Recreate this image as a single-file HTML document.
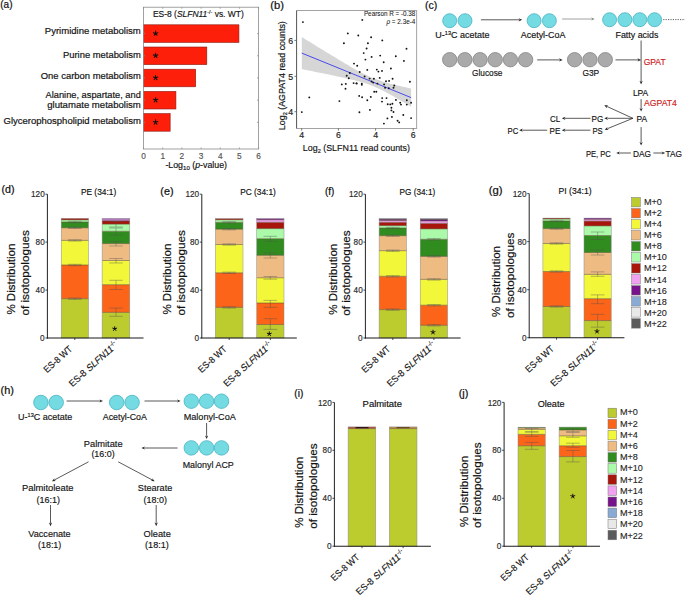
<!DOCTYPE html>
<html><head><meta charset="utf-8"><style>
html,body{margin:0;padding:0;background:#fff;width:685px;height:596px;overflow:hidden}
svg{display:block;font-family:"Liberation Sans",sans-serif}
</style></head><body>
<svg width="685" height="596" viewBox="0 0 685 596">
<text x="0.2" y="7.7" font-size="10" textLength="12.3" lengthAdjust="spacingAndGlyphs" fill="#141414" stroke="#111" stroke-width="0.22">(a)</text>
<rect x="143.50" y="24.80" width="95.44" height="17.60" fill="#fe1f0b" stroke="#8a1c14" stroke-width="0.6"/>
<path d="M155.60,33.40L155.60,31.10M155.60,33.40L157.79,32.69M155.60,33.40L156.95,35.26M155.60,33.40L154.25,35.26M155.60,33.40L153.41,32.69" stroke="#111" stroke-width="1.1" stroke-linecap="round" fill="none"/>
<rect x="143.50" y="47.00" width="63.31" height="17.60" fill="#fe1f0b" stroke="#8a1c14" stroke-width="0.6"/>
<path d="M155.60,55.60L155.60,53.30M155.60,55.60L157.79,54.89M155.60,55.60L156.95,57.46M155.60,55.60L154.25,57.46M155.60,55.60L153.41,54.89" stroke="#111" stroke-width="1.1" stroke-linecap="round" fill="none"/>
<rect x="143.50" y="69.20" width="52.18" height="17.60" fill="#fe1f0b" stroke="#8a1c14" stroke-width="0.6"/>
<path d="M155.60,77.80L155.60,75.50M155.60,77.80L157.79,77.09M155.60,77.80L156.95,79.66M155.60,77.80L154.25,79.66M155.60,77.80L153.41,77.09" stroke="#111" stroke-width="1.1" stroke-linecap="round" fill="none"/>
<rect x="143.50" y="91.40" width="32.42" height="17.60" fill="#fe1f0b" stroke="#8a1c14" stroke-width="0.6"/>
<path d="M155.60,100.00L155.60,97.70M155.60,100.00L157.79,99.29M155.60,100.00L156.95,101.86M155.60,100.00L154.25,101.86M155.60,100.00L153.41,99.29" stroke="#111" stroke-width="1.1" stroke-linecap="round" fill="none"/>
<rect x="143.50" y="113.60" width="26.66" height="17.60" fill="#fe1f0b" stroke="#8a1c14" stroke-width="0.6"/>
<path d="M155.60,122.20L155.60,119.90M155.60,122.20L157.79,121.49M155.60,122.20L156.95,124.06M155.60,122.20L154.25,124.06M155.60,122.20L153.41,121.49" stroke="#111" stroke-width="1.1" stroke-linecap="round" fill="none"/>
<rect x="143.5" y="7.2" width="115.1" height="141.8" fill="none" stroke="#8a8a8a" stroke-width="0.8"/>
<line x1="143.5" y1="149.0" x2="143.5" y2="147.4" stroke="#8a8a8a" stroke-width="0.7"/>
<line x1="143.5" y1="7.2" x2="143.5" y2="8.8" stroke="#8a8a8a" stroke-width="0.7"/>
<text x="143.5" y="159.0" font-size="8.3" text-anchor="middle" fill="#555" stroke="#555" stroke-width="0.17">0</text>
<line x1="162.7" y1="149.0" x2="162.7" y2="147.4" stroke="#8a8a8a" stroke-width="0.7"/>
<line x1="162.7" y1="7.2" x2="162.7" y2="8.8" stroke="#8a8a8a" stroke-width="0.7"/>
<text x="162.7" y="159.0" font-size="8.3" text-anchor="middle" fill="#555" stroke="#555" stroke-width="0.17">1</text>
<line x1="181.9" y1="149.0" x2="181.9" y2="147.4" stroke="#8a8a8a" stroke-width="0.7"/>
<line x1="181.9" y1="7.2" x2="181.9" y2="8.8" stroke="#8a8a8a" stroke-width="0.7"/>
<text x="181.9" y="159.0" font-size="8.3" text-anchor="middle" fill="#555" stroke="#555" stroke-width="0.17">2</text>
<line x1="201.1" y1="149.0" x2="201.1" y2="147.4" stroke="#8a8a8a" stroke-width="0.7"/>
<line x1="201.1" y1="7.2" x2="201.1" y2="8.8" stroke="#8a8a8a" stroke-width="0.7"/>
<text x="201.1" y="159.0" font-size="8.3" text-anchor="middle" fill="#555" stroke="#555" stroke-width="0.17">3</text>
<line x1="220.2" y1="149.0" x2="220.2" y2="147.4" stroke="#8a8a8a" stroke-width="0.7"/>
<line x1="220.2" y1="7.2" x2="220.2" y2="8.8" stroke="#8a8a8a" stroke-width="0.7"/>
<text x="220.2" y="159.0" font-size="8.3" text-anchor="middle" fill="#555" stroke="#555" stroke-width="0.17">4</text>
<line x1="239.4" y1="149.0" x2="239.4" y2="147.4" stroke="#8a8a8a" stroke-width="0.7"/>
<line x1="239.4" y1="7.2" x2="239.4" y2="8.8" stroke="#8a8a8a" stroke-width="0.7"/>
<text x="239.4" y="159.0" font-size="8.3" text-anchor="middle" fill="#555" stroke="#555" stroke-width="0.17">5</text>
<line x1="258.6" y1="149.0" x2="258.6" y2="147.4" stroke="#8a8a8a" stroke-width="0.7"/>
<line x1="258.6" y1="7.2" x2="258.6" y2="8.8" stroke="#8a8a8a" stroke-width="0.7"/>
<text x="258.6" y="159.0" font-size="8.3" text-anchor="middle" fill="#555" stroke="#555" stroke-width="0.17">6</text>
<line x1="143.5" y1="33.6" x2="145.1" y2="33.6" stroke="#8a8a8a" stroke-width="0.7"/>
<line x1="258.6" y1="33.6" x2="257.0" y2="33.6" stroke="#8a8a8a" stroke-width="0.7"/>
<line x1="143.5" y1="55.8" x2="145.1" y2="55.8" stroke="#8a8a8a" stroke-width="0.7"/>
<line x1="258.6" y1="55.8" x2="257.0" y2="55.8" stroke="#8a8a8a" stroke-width="0.7"/>
<line x1="143.5" y1="78.0" x2="145.1" y2="78.0" stroke="#8a8a8a" stroke-width="0.7"/>
<line x1="258.6" y1="78.0" x2="257.0" y2="78.0" stroke="#8a8a8a" stroke-width="0.7"/>
<line x1="143.5" y1="100.2" x2="145.1" y2="100.2" stroke="#8a8a8a" stroke-width="0.7"/>
<line x1="258.6" y1="100.2" x2="257.0" y2="100.2" stroke="#8a8a8a" stroke-width="0.7"/>
<line x1="143.5" y1="122.4" x2="145.1" y2="122.4" stroke="#8a8a8a" stroke-width="0.7"/>
<line x1="258.6" y1="122.4" x2="257.0" y2="122.4" stroke="#8a8a8a" stroke-width="0.7"/>
<text x="44.8" y="34.1" font-size="9.6" textLength="96.0" lengthAdjust="spacingAndGlyphs" fill="#141414" stroke="#141414" stroke-width="0.2">Pyrimidine metabolism</text>
<text x="63.0" y="57.7" font-size="9.6" textLength="77.8" lengthAdjust="spacingAndGlyphs" fill="#141414" stroke="#141414" stroke-width="0.2">Purine metabolism</text>
<text x="40.8" y="79.4" font-size="9.6" textLength="100.0" lengthAdjust="spacingAndGlyphs" fill="#141414" stroke="#141414" stroke-width="0.2">One carbon metabolism</text>
<text x="45.6" y="97.5" font-size="9.6" textLength="95.2" lengthAdjust="spacingAndGlyphs" fill="#141414" stroke="#141414" stroke-width="0.2">Alanine, aspartate, and</text>
<text x="47.2" y="107.5" font-size="9.6" textLength="93.6" lengthAdjust="spacingAndGlyphs" fill="#141414" stroke="#141414" stroke-width="0.2">glutamate metabolism</text>
<text x="3.5" y="124.4" font-size="9.6" textLength="137.3" lengthAdjust="spacingAndGlyphs" fill="#141414" stroke="#141414" stroke-width="0.2">Glycerophospholipid metabolism</text>
<text x="152.9" y="17.3" font-size="8.8" textLength="90.9" lengthAdjust="spacingAndGlyphs" fill="#141414" stroke="#141414" stroke-width="0.17">ES-8 (<tspan font-style="italic">SLFN11</tspan><tspan font-size="5.5" dy="-3">-/-</tspan><tspan dy="3"> vs. WT)</tspan></text>
<text x="165.4" y="167.6" font-size="8.6" textLength="61.6" lengthAdjust="spacingAndGlyphs" fill="#141414" stroke="#141414" stroke-width="0.17">-Log<tspan font-size="6" dy="2">10</tspan><tspan dy="-2"> (</tspan><tspan font-style="italic">p</tspan>-value)</text>
<text x="270.3" y="9.2" font-size="10" textLength="13.7" lengthAdjust="spacingAndGlyphs" fill="#141414" stroke="#111" stroke-width="0.22">(b)</text>
<polygon points="301.8,37.1 304.5,38.7 307.3,40.4 310.0,42.1 312.7,43.8 315.5,45.5 318.2,47.2 320.9,48.8 323.7,50.5 326.4,52.2 329.1,53.8 331.9,55.5 334.6,57.1 337.3,58.8 340.1,60.4 342.8,62.1 345.5,63.7 348.3,65.3 351.0,66.9 353.7,68.4 356.4,69.9 359.2,71.4 361.9,72.9 364.6,74.3 367.4,75.6 370.1,76.9 372.8,78.0 375.6,79.1 378.3,80.1 381.0,81.1 383.8,81.9 386.5,82.7 389.2,83.4 392.0,84.1 394.7,84.8 397.4,85.5 400.2,86.1 402.9,86.7 405.6,87.3 408.4,87.9 411.1,88.5 411.1,106.8 408.4,105.1 405.6,103.5 402.9,101.9 400.2,100.3 397.4,98.7 394.7,97.1 392.0,95.5 389.2,94.0 386.5,92.5 383.8,91.1 381.0,89.7 378.3,88.4 375.6,87.2 372.8,86.1 370.1,85.0 367.4,84.0 364.6,83.1 361.9,82.3 359.2,81.5 356.4,80.8 353.7,80.1 351.0,79.4 348.3,78.8 345.5,78.2 342.8,77.5 340.1,76.9 337.3,76.4 334.6,75.8 331.9,75.2 329.1,74.6 326.4,74.1 323.7,73.5 320.9,73.0 318.2,72.4 315.5,71.9 312.7,71.3 310.0,70.8 307.3,70.2 304.5,69.7 301.8,69.1" fill="#d6d6d6"/>
<line x1="301.8" y1="53.1" x2="411.1" y2="97.6" stroke="#3a3af0" stroke-width="0.9"/>
<circle cx="302.9" cy="22.1" r="0.95" fill="#111"/>
<circle cx="347.8" cy="33.4" r="0.95" fill="#111"/>
<circle cx="343.9" cy="43.2" r="0.95" fill="#111"/>
<circle cx="354" cy="63.6" r="0.95" fill="#111"/>
<circle cx="362.3" cy="19.9" r="0.95" fill="#111"/>
<circle cx="358.3" cy="35.5" r="0.95" fill="#111"/>
<circle cx="371.1" cy="37.2" r="0.95" fill="#111"/>
<circle cx="382.3" cy="40.4" r="0.95" fill="#111"/>
<circle cx="367.9" cy="43.2" r="0.95" fill="#111"/>
<circle cx="366.6" cy="48.5" r="0.95" fill="#111"/>
<circle cx="406.5" cy="48.8" r="0.95" fill="#111"/>
<circle cx="363.7" cy="53.1" r="0.95" fill="#111"/>
<circle cx="371.6" cy="56.9" r="0.95" fill="#111"/>
<circle cx="380.2" cy="55.6" r="0.95" fill="#111"/>
<circle cx="395.8" cy="56.2" r="0.95" fill="#111"/>
<circle cx="365.4" cy="59.6" r="0.95" fill="#111"/>
<circle cx="403.9" cy="60.9" r="0.95" fill="#111"/>
<circle cx="383.7" cy="62.3" r="0.95" fill="#111"/>
<circle cx="357.2" cy="65.8" r="0.95" fill="#111"/>
<circle cx="301.8" cy="112.1" r="0.95" fill="#111"/>
<circle cx="309.3" cy="97.4" r="0.95" fill="#111"/>
<circle cx="339.4" cy="101.1" r="0.95" fill="#111"/>
<circle cx="341.8" cy="84.4" r="0.95" fill="#111"/>
<circle cx="345.8" cy="83.9" r="0.95" fill="#111"/>
<circle cx="345.5" cy="88.8" r="0.95" fill="#111"/>
<circle cx="353.6" cy="83.1" r="0.95" fill="#111"/>
<circle cx="356.6" cy="83.4" r="0.95" fill="#111"/>
<circle cx="346.7" cy="75.8" r="0.95" fill="#111"/>
<circle cx="348.8" cy="78.2" r="0.95" fill="#111"/>
<circle cx="349.8" cy="73" r="0.95" fill="#111"/>
<circle cx="367.3" cy="69.9" r="0.95" fill="#111"/>
<circle cx="376.8" cy="69.6" r="0.95" fill="#111"/>
<circle cx="378.4" cy="71.6" r="0.95" fill="#111"/>
<circle cx="382" cy="70.9" r="0.95" fill="#111"/>
<circle cx="390.9" cy="68.5" r="0.95" fill="#111"/>
<circle cx="359.7" cy="72" r="0.95" fill="#111"/>
<circle cx="379.7" cy="77.9" r="0.95" fill="#111"/>
<circle cx="364.6" cy="76.5" r="0.95" fill="#111"/>
<circle cx="369.6" cy="78.6" r="0.95" fill="#111"/>
<circle cx="373.9" cy="78.7" r="0.95" fill="#111"/>
<circle cx="386" cy="81.3" r="0.95" fill="#111"/>
<circle cx="389.1" cy="80.9" r="0.95" fill="#111"/>
<circle cx="392.6" cy="78.8" r="0.95" fill="#111"/>
<circle cx="409.9" cy="81.8" r="0.95" fill="#111"/>
<circle cx="356.5" cy="83.4" r="0.95" fill="#111"/>
<circle cx="361.8" cy="83.6" r="0.95" fill="#111"/>
<circle cx="361.8" cy="84.8" r="0.95" fill="#111"/>
<circle cx="371.6" cy="81.5" r="0.95" fill="#111"/>
<circle cx="373.2" cy="82.6" r="0.95" fill="#111"/>
<circle cx="377.4" cy="83.6" r="0.95" fill="#111"/>
<circle cx="384.1" cy="84.4" r="0.95" fill="#111"/>
<circle cx="385.1" cy="87.8" r="0.95" fill="#111"/>
<circle cx="388.8" cy="88.3" r="0.95" fill="#111"/>
<circle cx="394.3" cy="85.5" r="0.95" fill="#111"/>
<circle cx="393.5" cy="87.8" r="0.95" fill="#111"/>
<circle cx="374.2" cy="91.7" r="0.95" fill="#111"/>
<circle cx="376.3" cy="91.7" r="0.95" fill="#111"/>
<circle cx="359.2" cy="95.9" r="0.95" fill="#111"/>
<circle cx="362.1" cy="97.3" r="0.95" fill="#111"/>
<circle cx="370.8" cy="96.9" r="0.95" fill="#111"/>
<circle cx="367.3" cy="100.2" r="0.95" fill="#111"/>
<circle cx="382.2" cy="98.1" r="0.95" fill="#111"/>
<circle cx="386.5" cy="98.1" r="0.95" fill="#111"/>
<circle cx="382" cy="101.6" r="0.95" fill="#111"/>
<circle cx="395.9" cy="99.9" r="0.95" fill="#111"/>
<circle cx="406.8" cy="100.2" r="0.95" fill="#111"/>
<circle cx="411.1" cy="102.8" r="0.95" fill="#111"/>
<circle cx="387.7" cy="104.2" r="0.95" fill="#111"/>
<circle cx="390.3" cy="104.4" r="0.95" fill="#111"/>
<circle cx="392.4" cy="103.7" r="0.95" fill="#111"/>
<circle cx="400.2" cy="102.8" r="0.95" fill="#111"/>
<circle cx="401" cy="104.6" r="0.95" fill="#111"/>
<circle cx="406.8" cy="104.6" r="0.95" fill="#111"/>
<circle cx="391.4" cy="107.8" r="0.95" fill="#111"/>
<circle cx="391.4" cy="110.4" r="0.95" fill="#111"/>
<circle cx="393.5" cy="112" r="0.95" fill="#111"/>
<circle cx="359.4" cy="112.2" r="0.95" fill="#111"/>
<circle cx="369.9" cy="109.9" r="0.95" fill="#111"/>
<circle cx="403.3" cy="115" r="0.95" fill="#111"/>
<circle cx="391.9" cy="116.9" r="0.95" fill="#111"/>
<circle cx="387.4" cy="118.4" r="0.95" fill="#111"/>
<circle cx="411.1" cy="118.1" r="0.95" fill="#111"/>
<circle cx="397.6" cy="120.8" r="0.95" fill="#111"/>
<circle cx="399.2" cy="122.4" r="0.95" fill="#111"/>
<circle cx="383.9" cy="123.6" r="0.95" fill="#111"/>
<rect x="296.6" y="10.6" width="120.1" height="117.8" fill="none" stroke="#8c8c8c" stroke-width="0.8"/>
<line x1="296.6" y1="10.6" x2="296.6" y2="128.4" stroke="#555" stroke-width="0.9"/>
<line x1="294.4" y1="40.4" x2="296.6" y2="40.4" stroke="#555" stroke-width="0.8"/>
<text x="290.8" y="43.6" font-size="8.8" text-anchor="middle" fill="#222" stroke="#222" stroke-width="0.17">6</text>
<line x1="294.4" y1="76.3" x2="296.6" y2="76.3" stroke="#555" stroke-width="0.8"/>
<text x="290.8" y="79.5" font-size="8.8" text-anchor="middle" fill="#222" stroke="#222" stroke-width="0.17">5</text>
<line x1="294.4" y1="111.7" x2="296.6" y2="111.7" stroke="#555" stroke-width="0.8"/>
<text x="290.8" y="114.9" font-size="8.8" text-anchor="middle" fill="#222" stroke="#222" stroke-width="0.17">4</text>
<line x1="301.7" y1="128.4" x2="301.7" y2="130.6" stroke="#555" stroke-width="0.8"/>
<text x="301.7" y="138.3" font-size="8.8" text-anchor="middle" fill="#222" stroke="#222" stroke-width="0.17">4</text>
<line x1="338.4" y1="128.4" x2="338.4" y2="130.6" stroke="#555" stroke-width="0.8"/>
<text x="338.4" y="138.3" font-size="8.8" text-anchor="middle" fill="#222" stroke="#222" stroke-width="0.17">6</text>
<line x1="375.6" y1="128.4" x2="375.6" y2="130.6" stroke="#555" stroke-width="0.8"/>
<text x="375.6" y="138.3" font-size="8.8" text-anchor="middle" fill="#222" stroke="#222" stroke-width="0.17">4</text>
<line x1="413.2" y1="128.4" x2="413.2" y2="130.6" stroke="#555" stroke-width="0.8"/>
<text x="413.2" y="138.3" font-size="8.8" text-anchor="middle" fill="#222" stroke="#222" stroke-width="0.17">6</text>
<text x="302.8" y="150.8" font-size="9.8" textLength="107.2" lengthAdjust="spacingAndGlyphs" fill="#141414" stroke="#141414" stroke-width="0.17">Log<tspan font-size="6.2" dy="2.2">2</tspan><tspan dy="-2.2"> (SLFN11 read counts)</tspan></text>
<text transform="translate(285.4,130.2) rotate(-90)" x="0" y="0" font-size="9.8" fill="#141414" stroke="#141414" stroke-width="0.2" textLength="109" lengthAdjust="spacingAndGlyphs">Log<tspan font-size="6.2" dy="1.6">2</tspan><tspan dy="-1.6"> (AGPAT4 read counts)</tspan></text>
<text x="415.4" y="15.8" font-size="6.6" text-anchor="end" textLength="51.5" lengthAdjust="spacingAndGlyphs" fill="#222" stroke="#222" stroke-width="0.08">Pearson R = -0.38</text>
<text x="415.4" y="24.4" font-size="6.6" text-anchor="end" textLength="29.0" lengthAdjust="spacingAndGlyphs" fill="#222" stroke="#222" stroke-width="0.08"><tspan font-style="italic">ρ</tspan> = 2.3e-4</text>
<text x="425.1" y="9.3" font-size="10" textLength="12.3" lengthAdjust="spacingAndGlyphs" fill="#141414" stroke="#111" stroke-width="0.22">(c)</text>
<circle cx="449.7" cy="20.7" r="7.0" fill="#74dbe2" stroke="#47b3c2" stroke-width="0.8"/>
<circle cx="465.0" cy="20.7" r="7.0" fill="#74dbe2" stroke="#47b3c2" stroke-width="0.8"/>
<circle cx="534.1" cy="20.7" r="7.0" fill="#74dbe2" stroke="#47b3c2" stroke-width="0.8"/>
<circle cx="549.4" cy="20.7" r="7.0" fill="#74dbe2" stroke="#47b3c2" stroke-width="0.8"/>
<circle cx="609.6" cy="19.7" r="7.0" fill="#74dbe2" stroke="#47b3c2" stroke-width="0.8"/>
<circle cx="624.9" cy="19.7" r="7.0" fill="#74dbe2" stroke="#47b3c2" stroke-width="0.8"/>
<circle cx="639.8" cy="19.7" r="7.0" fill="#74dbe2" stroke="#47b3c2" stroke-width="0.8"/>
<circle cx="654.6" cy="19.7" r="7.0" fill="#74dbe2" stroke="#47b3c2" stroke-width="0.8"/>
<circle cx="449.7" cy="59.7" r="7.2" fill="#aaaaaa" stroke="#858585" stroke-width="0.8"/>
<circle cx="464.9" cy="59.7" r="7.2" fill="#aaaaaa" stroke="#858585" stroke-width="0.8"/>
<circle cx="480.1" cy="59.7" r="7.2" fill="#aaaaaa" stroke="#858585" stroke-width="0.8"/>
<circle cx="495.2" cy="59.7" r="7.2" fill="#aaaaaa" stroke="#858585" stroke-width="0.8"/>
<circle cx="510.4" cy="59.7" r="7.2" fill="#aaaaaa" stroke="#858585" stroke-width="0.8"/>
<circle cx="525.6" cy="59.7" r="7.2" fill="#aaaaaa" stroke="#858585" stroke-width="0.8"/>
<circle cx="574.6" cy="59.7" r="7.2" fill="#aaaaaa" stroke="#858585" stroke-width="0.8"/>
<circle cx="590.0" cy="59.7" r="7.2" fill="#aaaaaa" stroke="#858585" stroke-width="0.8"/>
<circle cx="605.3" cy="59.7" r="7.2" fill="#aaaaaa" stroke="#858585" stroke-width="0.8"/>
<line x1="480.9" y1="19.8" x2="519.1" y2="19.8" stroke="#222" stroke-width="0.75"/>
<polygon points="522.2,19.8 518.6,21.4 519.6,19.8 518.6,18.2" fill="#222"/>
<line x1="562.1" y1="19.0" x2="591.6" y2="19.0" stroke="#808080" stroke-width="0.75"/>
<polygon points="594.7,19.0 591.1,20.6 592.1,19.0 591.1,17.4" fill="#808080"/>
<line x1="663.2" y1="19.6" x2="685.0" y2="19.6" stroke="#333" stroke-width="0.8" stroke-dasharray="1.2,1.2"/>
<line x1="537.2" y1="59.9" x2="559.5" y2="59.9" stroke="#222" stroke-width="0.75"/>
<polygon points="562.6,59.9 559.0,61.5 560.0,59.9 559.0,58.3" fill="#222"/>
<line x1="615.5" y1="59.9" x2="638.0" y2="59.9" stroke="#222" stroke-width="0.75"/>
<polygon points="641.1,59.9 637.5,61.5 638.5,59.9 637.5,58.3" fill="#222"/>
<line x1="641.1" y1="40.5" x2="641.1" y2="81.3" stroke="#222" stroke-width="0.75"/>
<polygon points="641.1,84.4 639.5,80.8 641.1,81.8 642.7,80.8" fill="#222"/>
<text x="435.3" y="38.0" font-size="9.0" textLength="54.2" lengthAdjust="spacingAndGlyphs" fill="#141414" stroke="#141414" stroke-width="0.17">U-<tspan font-size="5.6" dy="-3.2">13</tspan><tspan dy="3.2">C acetate</tspan></text>
<text x="520.8" y="38.0" font-size="9.54" textLength="44.6" lengthAdjust="spacingAndGlyphs" fill="#141414" stroke="#141414" stroke-width="0.17">Acetyl-CoA</text>
<text x="615.5" y="38.0" font-size="9.54" textLength="42.9" lengthAdjust="spacingAndGlyphs" fill="#141414" stroke="#141414" stroke-width="0.17">Fatty acids</text>
<text x="472.0" y="75.8" font-size="9.54" textLength="30.4" lengthAdjust="spacingAndGlyphs" fill="#141414" stroke="#141414" stroke-width="0.17">Glucose</text>
<text x="582.4" y="75.8" font-size="9.54" textLength="16.8" lengthAdjust="spacingAndGlyphs" fill="#141414" stroke="#141414" stroke-width="0.17">G3P</text>
<text x="643.7" y="64.5" font-size="9.54" textLength="21.9" lengthAdjust="spacingAndGlyphs" fill="#cc2222" stroke="#cc2222" stroke-width="0.17">GPAT</text>
<text x="632.9" y="95.6" font-size="9.54" textLength="15.3" lengthAdjust="spacingAndGlyphs" fill="#141414" stroke="#141414" stroke-width="0.17">LPA</text>
<line x1="641.1" y1="99.1" x2="641.1" y2="108.5" stroke="#222" stroke-width="0.75"/>
<polygon points="641.1,111.6 639.5,108.0 641.1,109.0 642.7,108.0" fill="#222"/>
<text x="644.1" y="106.2" font-size="9.54" textLength="32.7" lengthAdjust="spacingAndGlyphs" fill="#cc2222" stroke="#cc2222" stroke-width="0.17">AGPAT4</text>
<text x="636.6" y="121.7" font-size="9.54" textLength="10.6" lengthAdjust="spacingAndGlyphs" fill="#141414" stroke="#141414" stroke-width="0.17">PA</text>
<line x1="632.9" y1="118.3" x2="607.1" y2="106.5" stroke="#222" stroke-width="0.75"/>
<polygon points="604.3,105.2 608.2,105.2 606.7,106.3 606.9,108.2" fill="#222"/>
<line x1="632.9" y1="118.3" x2="607.4" y2="118.3" stroke="#222" stroke-width="0.75"/>
<polygon points="604.3,118.3 607.9,116.7 606.9,118.3 607.9,119.9" fill="#222"/>
<line x1="632.9" y1="118.3" x2="607.6" y2="128.6" stroke="#222" stroke-width="0.75"/>
<polygon points="604.7,129.8 607.4,127.0 607.1,128.8 608.6,129.9" fill="#222"/>
<text x="591.6" y="121.7" font-size="9.54" textLength="11.7" lengthAdjust="spacingAndGlyphs" fill="#141414" stroke="#141414" stroke-width="0.17">PG</text>
<text x="550.1" y="121.7" font-size="9.54" textLength="10.2" lengthAdjust="spacingAndGlyphs" fill="#141414" stroke="#141414" stroke-width="0.17">CL</text>
<line x1="590.4" y1="118.3" x2="564.9" y2="118.3" stroke="#222" stroke-width="0.75"/>
<polygon points="561.8,118.3 565.4,116.7 564.4,118.3 565.4,119.9" fill="#222"/>
<text x="592.4" y="133.8" font-size="9.54" textLength="10.3" lengthAdjust="spacingAndGlyphs" fill="#141414" stroke="#141414" stroke-width="0.17">PS</text>
<text x="549.5" y="133.8" font-size="9.54" textLength="10.8" lengthAdjust="spacingAndGlyphs" fill="#141414" stroke="#141414" stroke-width="0.17">PE</text>
<line x1="590.4" y1="130.2" x2="564.9" y2="130.2" stroke="#222" stroke-width="0.75"/>
<polygon points="561.8,130.2 565.4,128.6 564.4,130.2 565.4,131.8" fill="#222"/>
<text x="507.5" y="133.8" font-size="9.54" textLength="10.7" lengthAdjust="spacingAndGlyphs" fill="#141414" stroke="#141414" stroke-width="0.17">PC</text>
<line x1="547.2" y1="130.2" x2="522.3" y2="130.2" stroke="#222" stroke-width="0.75"/>
<polygon points="519.2,130.2 522.8,128.6 521.8,130.2 522.8,131.8" fill="#222"/>
<line x1="641.1" y1="127.1" x2="641.1" y2="142.5" stroke="#222" stroke-width="0.75"/>
<polygon points="641.1,145.6 639.5,142.0 641.1,143.0 642.7,142.0" fill="#222"/>
<text x="632.9" y="156.5" font-size="9.54" textLength="18.0" lengthAdjust="spacingAndGlyphs" fill="#141414" stroke="#141414" stroke-width="0.17">DAG</text>
<text x="585.9" y="156.5" font-size="9.54" textLength="24.9" lengthAdjust="spacingAndGlyphs" fill="#141414" stroke="#141414" stroke-width="0.17">PE, PC</text>
<line x1="630.9" y1="153.0" x2="619.3" y2="153.0" stroke="#222" stroke-width="0.75"/>
<polygon points="616.2,153.0 619.8,151.4 618.8,153.0 619.8,154.6" fill="#222"/>
<line x1="653.4" y1="153.0" x2="662.1" y2="153.0" stroke="#222" stroke-width="0.75"/>
<polygon points="665.2,153.0 661.6,154.6 662.6,153.0 661.6,151.4" fill="#222"/>
<text x="665.6" y="156.5" font-size="9.54" textLength="16.4" lengthAdjust="spacingAndGlyphs" fill="#141414" stroke="#141414" stroke-width="0.17">TAG</text>
<rect x="61.20" y="298.70" width="27.30" height="39.30" fill="#bccb2e"/>
<rect x="61.20" y="265.00" width="27.30" height="33.70" fill="#fb6419"/>
<rect x="61.20" y="240.40" width="27.30" height="24.60" fill="#f2f73a"/>
<rect x="61.20" y="227.80" width="27.30" height="12.60" fill="#eebc82"/>
<rect x="61.20" y="222.00" width="27.30" height="5.80" fill="#318c1f"/>
<rect x="61.20" y="219.90" width="27.30" height="2.10" fill="#aafaaa"/>
<rect x="61.20" y="218.40" width="27.30" height="1.50" fill="#a8150b"/>
<line x1="61.2" y1="298.7" x2="88.5" y2="298.7" stroke="#5e4e30" stroke-width="0.55"/>
<line x1="61.2" y1="265.0" x2="88.5" y2="265.0" stroke="#5e4e30" stroke-width="0.55"/>
<line x1="61.2" y1="240.4" x2="88.5" y2="240.4" stroke="#5e4e30" stroke-width="0.55"/>
<line x1="61.2" y1="227.8" x2="88.5" y2="227.8" stroke="#5e4e30" stroke-width="0.55"/>
<line x1="61.2" y1="222.0" x2="88.5" y2="222.0" stroke="#5e4e30" stroke-width="0.55"/>
<line x1="61.2" y1="219.9" x2="88.5" y2="219.9" stroke="#5e4e30" stroke-width="0.55"/>
<rect x="61.20" y="218.40" width="27.30" height="119.60" fill="none" stroke="#8d8d8d" stroke-width="0.5"/>
<rect x="102.10" y="312.40" width="27.70" height="25.60" fill="#bccb2e"/>
<rect x="102.10" y="284.70" width="27.70" height="27.70" fill="#fb6419"/>
<rect x="102.10" y="260.50" width="27.70" height="24.20" fill="#f2f73a"/>
<rect x="102.10" y="243.60" width="27.70" height="16.90" fill="#eebc82"/>
<rect x="102.10" y="231.30" width="27.70" height="12.30" fill="#318c1f"/>
<rect x="102.10" y="224.10" width="27.70" height="7.20" fill="#aafaaa"/>
<rect x="102.10" y="221.00" width="27.70" height="3.10" fill="#a8150b"/>
<rect x="102.10" y="218.30" width="27.70" height="2.70" fill="#b47abf"/>
<line x1="102.1" y1="312.4" x2="129.8" y2="312.4" stroke="#5e4e30" stroke-width="0.55"/>
<line x1="102.1" y1="284.7" x2="129.8" y2="284.7" stroke="#5e4e30" stroke-width="0.55"/>
<line x1="102.1" y1="260.5" x2="129.8" y2="260.5" stroke="#5e4e30" stroke-width="0.55"/>
<line x1="102.1" y1="243.6" x2="129.8" y2="243.6" stroke="#5e4e30" stroke-width="0.55"/>
<line x1="102.1" y1="231.3" x2="129.8" y2="231.3" stroke="#5e4e30" stroke-width="0.55"/>
<line x1="102.1" y1="224.1" x2="129.8" y2="224.1" stroke="#5e4e30" stroke-width="0.55"/>
<line x1="102.1" y1="221.0" x2="129.8" y2="221.0" stroke="#5e4e30" stroke-width="0.55"/>
<rect x="102.10" y="218.30" width="27.70" height="119.70" fill="none" stroke="#8d8d8d" stroke-width="0.5"/>
<line x1="116.0" y1="308.1" x2="116.0" y2="316.3" stroke="#505050" stroke-width="0.4"/>
<line x1="109.2" y1="308.1" x2="122.8" y2="308.1" stroke="#505050" stroke-width="0.4"/>
<line x1="109.2" y1="316.3" x2="122.8" y2="316.3" stroke="#505050" stroke-width="0.4"/>
<line x1="116.0" y1="280.3" x2="116.0" y2="289.5" stroke="#505050" stroke-width="0.4"/>
<line x1="109.2" y1="280.3" x2="122.8" y2="280.3" stroke="#505050" stroke-width="0.4"/>
<line x1="109.2" y1="289.5" x2="122.8" y2="289.5" stroke="#505050" stroke-width="0.4"/>
<line x1="116.0" y1="258.5" x2="116.0" y2="263.0" stroke="#505050" stroke-width="0.4"/>
<line x1="109.2" y1="258.5" x2="122.8" y2="258.5" stroke="#505050" stroke-width="0.4"/>
<line x1="109.2" y1="263.0" x2="122.8" y2="263.0" stroke="#505050" stroke-width="0.4"/>
<line x1="116.0" y1="241.5" x2="116.0" y2="246.0" stroke="#505050" stroke-width="0.4"/>
<line x1="109.2" y1="241.5" x2="122.8" y2="241.5" stroke="#505050" stroke-width="0.4"/>
<line x1="109.2" y1="246.0" x2="122.8" y2="246.0" stroke="#505050" stroke-width="0.4"/>
<line x1="116.0" y1="228.0" x2="116.0" y2="235.0" stroke="#505050" stroke-width="0.4"/>
<line x1="109.2" y1="228.0" x2="122.8" y2="228.0" stroke="#505050" stroke-width="0.4"/>
<line x1="109.2" y1="235.0" x2="122.8" y2="235.0" stroke="#505050" stroke-width="0.4"/>
<line x1="116.0" y1="221.5" x2="116.0" y2="227.0" stroke="#505050" stroke-width="0.4"/>
<line x1="109.2" y1="221.5" x2="122.8" y2="221.5" stroke="#505050" stroke-width="0.4"/>
<line x1="109.2" y1="227.0" x2="122.8" y2="227.0" stroke="#505050" stroke-width="0.4"/>
<line x1="74.8" y1="298.0" x2="74.8" y2="299.4" stroke="#505050" stroke-width="0.4"/>
<line x1="68.0" y1="298.0" x2="81.6" y2="298.0" stroke="#505050" stroke-width="0.4"/>
<line x1="68.0" y1="299.4" x2="81.6" y2="299.4" stroke="#505050" stroke-width="0.4"/>
<line x1="74.8" y1="264.3" x2="74.8" y2="265.7" stroke="#505050" stroke-width="0.4"/>
<line x1="68.0" y1="264.3" x2="81.6" y2="264.3" stroke="#505050" stroke-width="0.4"/>
<line x1="68.0" y1="265.7" x2="81.6" y2="265.7" stroke="#505050" stroke-width="0.4"/>
<line x1="74.8" y1="239.7" x2="74.8" y2="241.1" stroke="#505050" stroke-width="0.4"/>
<line x1="68.0" y1="239.7" x2="81.6" y2="239.7" stroke="#505050" stroke-width="0.4"/>
<line x1="68.0" y1="241.1" x2="81.6" y2="241.1" stroke="#505050" stroke-width="0.4"/>
<line x1="74.8" y1="227.1" x2="74.8" y2="228.5" stroke="#505050" stroke-width="0.4"/>
<line x1="68.0" y1="227.1" x2="81.6" y2="227.1" stroke="#505050" stroke-width="0.4"/>
<line x1="68.0" y1="228.5" x2="81.6" y2="228.5" stroke="#505050" stroke-width="0.4"/>
<line x1="74.8" y1="221.3" x2="74.8" y2="222.7" stroke="#505050" stroke-width="0.4"/>
<line x1="68.0" y1="221.3" x2="81.6" y2="221.3" stroke="#505050" stroke-width="0.4"/>
<line x1="68.0" y1="222.7" x2="81.6" y2="222.7" stroke="#505050" stroke-width="0.4"/>
<path d="M114.70,328.80L114.70,326.70M114.70,328.80L116.70,328.15M114.70,328.80L115.93,330.50M114.70,328.80L113.47,330.50M114.70,328.80L112.70,328.15" stroke="#111" stroke-width="1.0" stroke-linecap="round" fill="none"/>
<line x1="47.4" y1="194.2" x2="47.4" y2="338.5" stroke="#222" stroke-width="1.0"/>
<line x1="46.9" y1="338.0" x2="143.5" y2="338.0" stroke="#1a1a1a" stroke-width="1.1"/>
<line x1="45.4" y1="338.0" x2="47.4" y2="338.0" stroke="#222" stroke-width="0.8"/>
<text x="44.7" y="341.1" font-size="8.8" text-anchor="end" textLength="4.6" lengthAdjust="spacingAndGlyphs" fill="#2a2a2a" stroke="#2a2a2a" stroke-width="0.17">0</text>
<line x1="45.4" y1="290.1" x2="47.4" y2="290.1" stroke="#222" stroke-width="0.8"/>
<text x="44.7" y="293.2" font-size="8.8" text-anchor="end" textLength="9.1" lengthAdjust="spacingAndGlyphs" fill="#2a2a2a" stroke="#2a2a2a" stroke-width="0.17">40</text>
<line x1="45.4" y1="242.1" x2="47.4" y2="242.1" stroke="#222" stroke-width="0.8"/>
<text x="44.7" y="245.2" font-size="8.8" text-anchor="end" textLength="9.1" lengthAdjust="spacingAndGlyphs" fill="#2a2a2a" stroke="#2a2a2a" stroke-width="0.17">80</text>
<line x1="45.4" y1="194.2" x2="47.4" y2="194.2" stroke="#222" stroke-width="0.8"/>
<text x="44.7" y="197.3" font-size="8.8" text-anchor="end" textLength="13.7" lengthAdjust="spacingAndGlyphs" fill="#2a2a2a" stroke="#2a2a2a" stroke-width="0.17">120</text>
<line x1="74.8" y1="338.0" x2="74.8" y2="340.0" stroke="#222" stroke-width="0.8"/>
<line x1="116.0" y1="338.0" x2="116.0" y2="340.0" stroke="#222" stroke-width="0.8"/>
<text x="80.9" y="194.7" font-size="8.6" textLength="35.3" lengthAdjust="spacingAndGlyphs" fill="#111" stroke="#111" stroke-width="0.17">PE (34:1)</text>
<text x="1.5" y="192.8" font-size="10" textLength="13.0" lengthAdjust="spacingAndGlyphs" fill="#111" stroke="#111" stroke-width="0.22">(d)</text>
<text transform="translate(15.4,314.6) rotate(-90)" font-size="11.6" fill="#111" stroke="#111" stroke-width="0.2" textLength="71" lengthAdjust="spacingAndGlyphs">% Distribution</text>
<text transform="translate(29.0,315.6) rotate(-90)" font-size="11.6" fill="#111" stroke="#111" stroke-width="0.2" textLength="85.5" lengthAdjust="spacingAndGlyphs">of isotopologues</text>
<text transform="translate(47.1,373.2) rotate(-42)" font-size="9.4" fill="#111" stroke="#111" stroke-width="0.15" textLength="34.8" lengthAdjust="spacingAndGlyphs">ES-8 WT</text>
<g transform="translate(72.5,387.2) rotate(-42)" fill="#111" stroke="#111" stroke-width="0.15"><text font-size="9.5" textLength="19.96" lengthAdjust="spacingAndGlyphs">ES-8</text><text transform="translate(22.45,0) skewX(-12)" font-size="9.5" textLength="32.95" lengthAdjust="spacingAndGlyphs">SLFN11</text><text x="55.8" y="-3.7" font-size="6.3" stroke-width="0.1">-/-</text></g>
<rect x="215.30" y="307.40" width="27.70" height="30.60" fill="#bccb2e"/>
<rect x="215.30" y="272.80" width="27.70" height="34.60" fill="#fb6419"/>
<rect x="215.30" y="244.50" width="27.70" height="28.30" fill="#f2f73a"/>
<rect x="215.30" y="229.20" width="27.70" height="15.30" fill="#eebc82"/>
<rect x="215.30" y="222.30" width="27.70" height="6.90" fill="#318c1f"/>
<rect x="215.30" y="219.80" width="27.70" height="2.50" fill="#aafaaa"/>
<rect x="215.30" y="218.60" width="27.70" height="1.20" fill="#a8150b"/>
<line x1="215.3" y1="307.4" x2="243.0" y2="307.4" stroke="#5e4e30" stroke-width="0.55"/>
<line x1="215.3" y1="272.8" x2="243.0" y2="272.8" stroke="#5e4e30" stroke-width="0.55"/>
<line x1="215.3" y1="244.5" x2="243.0" y2="244.5" stroke="#5e4e30" stroke-width="0.55"/>
<line x1="215.3" y1="229.2" x2="243.0" y2="229.2" stroke="#5e4e30" stroke-width="0.55"/>
<line x1="215.3" y1="222.3" x2="243.0" y2="222.3" stroke="#5e4e30" stroke-width="0.55"/>
<line x1="215.3" y1="219.8" x2="243.0" y2="219.8" stroke="#5e4e30" stroke-width="0.55"/>
<rect x="215.30" y="218.60" width="27.70" height="119.40" fill="none" stroke="#8d8d8d" stroke-width="0.5"/>
<rect x="256.70" y="324.50" width="27.30" height="13.50" fill="#bccb2e"/>
<rect x="256.70" y="303.00" width="27.30" height="21.50" fill="#fb6419"/>
<rect x="256.70" y="277.80" width="27.30" height="25.20" fill="#f2f73a"/>
<rect x="256.70" y="255.30" width="27.30" height="22.50" fill="#eebc82"/>
<rect x="256.70" y="238.70" width="27.30" height="16.60" fill="#318c1f"/>
<rect x="256.70" y="228.60" width="27.30" height="10.10" fill="#aafaaa"/>
<rect x="256.70" y="222.30" width="27.30" height="6.30" fill="#a8150b"/>
<rect x="256.70" y="219.80" width="27.30" height="2.50" fill="#f0a2f0"/>
<rect x="256.70" y="218.60" width="27.30" height="1.20" fill="#77148c"/>
<line x1="256.7" y1="324.5" x2="284.0" y2="324.5" stroke="#5e4e30" stroke-width="0.55"/>
<line x1="256.7" y1="303.0" x2="284.0" y2="303.0" stroke="#5e4e30" stroke-width="0.55"/>
<line x1="256.7" y1="277.8" x2="284.0" y2="277.8" stroke="#5e4e30" stroke-width="0.55"/>
<line x1="256.7" y1="255.3" x2="284.0" y2="255.3" stroke="#5e4e30" stroke-width="0.55"/>
<line x1="256.7" y1="238.7" x2="284.0" y2="238.7" stroke="#5e4e30" stroke-width="0.55"/>
<line x1="256.7" y1="228.6" x2="284.0" y2="228.6" stroke="#5e4e30" stroke-width="0.55"/>
<line x1="256.7" y1="222.3" x2="284.0" y2="222.3" stroke="#5e4e30" stroke-width="0.55"/>
<line x1="256.7" y1="219.8" x2="284.0" y2="219.8" stroke="#5e4e30" stroke-width="0.55"/>
<rect x="256.70" y="218.60" width="27.30" height="119.40" fill="none" stroke="#8d8d8d" stroke-width="0.5"/>
<line x1="270.3" y1="318.7" x2="270.3" y2="329.4" stroke="#505050" stroke-width="0.4"/>
<line x1="263.5" y1="318.7" x2="277.1" y2="318.7" stroke="#505050" stroke-width="0.4"/>
<line x1="263.5" y1="329.4" x2="277.1" y2="329.4" stroke="#505050" stroke-width="0.4"/>
<line x1="270.3" y1="300.4" x2="270.3" y2="307.4" stroke="#505050" stroke-width="0.4"/>
<line x1="263.5" y1="300.4" x2="277.1" y2="300.4" stroke="#505050" stroke-width="0.4"/>
<line x1="263.5" y1="307.4" x2="277.1" y2="307.4" stroke="#505050" stroke-width="0.4"/>
<line x1="270.3" y1="276.5" x2="270.3" y2="279.2" stroke="#505050" stroke-width="0.4"/>
<line x1="263.5" y1="276.5" x2="277.1" y2="276.5" stroke="#505050" stroke-width="0.4"/>
<line x1="263.5" y1="279.2" x2="277.1" y2="279.2" stroke="#505050" stroke-width="0.4"/>
<line x1="270.3" y1="253.0" x2="270.3" y2="258.0" stroke="#505050" stroke-width="0.4"/>
<line x1="263.5" y1="253.0" x2="277.1" y2="253.0" stroke="#505050" stroke-width="0.4"/>
<line x1="263.5" y1="258.0" x2="277.1" y2="258.0" stroke="#505050" stroke-width="0.4"/>
<line x1="270.3" y1="236.3" x2="270.3" y2="241.3" stroke="#505050" stroke-width="0.4"/>
<line x1="263.5" y1="236.3" x2="277.1" y2="236.3" stroke="#505050" stroke-width="0.4"/>
<line x1="263.5" y1="241.3" x2="277.1" y2="241.3" stroke="#505050" stroke-width="0.4"/>
<line x1="229.2" y1="306.7" x2="229.2" y2="308.1" stroke="#505050" stroke-width="0.4"/>
<line x1="222.3" y1="306.7" x2="236.0" y2="306.7" stroke="#505050" stroke-width="0.4"/>
<line x1="222.3" y1="308.1" x2="236.0" y2="308.1" stroke="#505050" stroke-width="0.4"/>
<line x1="229.2" y1="272.1" x2="229.2" y2="273.5" stroke="#505050" stroke-width="0.4"/>
<line x1="222.3" y1="272.1" x2="236.0" y2="272.1" stroke="#505050" stroke-width="0.4"/>
<line x1="222.3" y1="273.5" x2="236.0" y2="273.5" stroke="#505050" stroke-width="0.4"/>
<line x1="229.2" y1="243.8" x2="229.2" y2="245.2" stroke="#505050" stroke-width="0.4"/>
<line x1="222.3" y1="243.8" x2="236.0" y2="243.8" stroke="#505050" stroke-width="0.4"/>
<line x1="222.3" y1="245.2" x2="236.0" y2="245.2" stroke="#505050" stroke-width="0.4"/>
<line x1="229.2" y1="228.5" x2="229.2" y2="229.9" stroke="#505050" stroke-width="0.4"/>
<line x1="222.3" y1="228.5" x2="236.0" y2="228.5" stroke="#505050" stroke-width="0.4"/>
<line x1="222.3" y1="229.9" x2="236.0" y2="229.9" stroke="#505050" stroke-width="0.4"/>
<line x1="229.2" y1="221.6" x2="229.2" y2="223.0" stroke="#505050" stroke-width="0.4"/>
<line x1="222.3" y1="221.6" x2="236.0" y2="221.6" stroke="#505050" stroke-width="0.4"/>
<line x1="222.3" y1="223.0" x2="236.0" y2="223.0" stroke="#505050" stroke-width="0.4"/>
<path d="M269.30,333.90L269.30,331.80M269.30,333.90L271.30,333.25M269.30,333.90L270.53,335.60M269.30,333.90L268.07,335.60M269.30,333.90L267.30,333.25" stroke="#111" stroke-width="1.0" stroke-linecap="round" fill="none"/>
<line x1="201.8" y1="194.2" x2="201.8" y2="338.5" stroke="#222" stroke-width="1.0"/>
<line x1="201.3" y1="338.0" x2="296.8" y2="338.0" stroke="#1a1a1a" stroke-width="1.1"/>
<line x1="199.8" y1="338.0" x2="201.8" y2="338.0" stroke="#222" stroke-width="0.8"/>
<text x="199.1" y="341.1" font-size="8.8" text-anchor="end" textLength="4.6" lengthAdjust="spacingAndGlyphs" fill="#2a2a2a" stroke="#2a2a2a" stroke-width="0.17">0</text>
<line x1="199.8" y1="290.1" x2="201.8" y2="290.1" stroke="#222" stroke-width="0.8"/>
<text x="199.1" y="293.2" font-size="8.8" text-anchor="end" textLength="9.1" lengthAdjust="spacingAndGlyphs" fill="#2a2a2a" stroke="#2a2a2a" stroke-width="0.17">40</text>
<line x1="199.8" y1="242.1" x2="201.8" y2="242.1" stroke="#222" stroke-width="0.8"/>
<text x="199.1" y="245.2" font-size="8.8" text-anchor="end" textLength="9.1" lengthAdjust="spacingAndGlyphs" fill="#2a2a2a" stroke="#2a2a2a" stroke-width="0.17">80</text>
<line x1="199.8" y1="194.2" x2="201.8" y2="194.2" stroke="#222" stroke-width="0.8"/>
<text x="199.1" y="197.3" font-size="8.8" text-anchor="end" textLength="13.7" lengthAdjust="spacingAndGlyphs" fill="#2a2a2a" stroke="#2a2a2a" stroke-width="0.17">120</text>
<line x1="229.2" y1="338.0" x2="229.2" y2="340.0" stroke="#222" stroke-width="0.8"/>
<line x1="270.4" y1="338.0" x2="270.4" y2="340.0" stroke="#222" stroke-width="0.8"/>
<text x="240.2" y="195.1" font-size="8.6" textLength="35.6" lengthAdjust="spacingAndGlyphs" fill="#111" stroke="#111" stroke-width="0.17">PC (34:1)</text>
<text x="160.3" y="194.6" font-size="10" textLength="13.2" lengthAdjust="spacingAndGlyphs" fill="#111" stroke="#111" stroke-width="0.22">(e)</text>
<text transform="translate(171.3,314.6) rotate(-90)" font-size="11.6" fill="#111" stroke="#111" stroke-width="0.2" textLength="71" lengthAdjust="spacingAndGlyphs">% Distribution</text>
<text transform="translate(185.0,315.6) rotate(-90)" font-size="11.6" fill="#111" stroke="#111" stroke-width="0.2" textLength="85.5" lengthAdjust="spacingAndGlyphs">of isotopologues</text>
<text transform="translate(201.5,373.2) rotate(-42)" font-size="9.4" fill="#111" stroke="#111" stroke-width="0.15" textLength="34.8" lengthAdjust="spacingAndGlyphs">ES-8 WT</text>
<g transform="translate(226.9,387.2) rotate(-42)" fill="#111" stroke="#111" stroke-width="0.15"><text font-size="9.5" textLength="19.96" lengthAdjust="spacingAndGlyphs">ES-8</text><text transform="translate(22.45,0) skewX(-12)" font-size="9.5" textLength="32.95" lengthAdjust="spacingAndGlyphs">SLFN11</text><text x="55.8" y="-3.7" font-size="6.3" stroke-width="0.1">-/-</text></g>
<rect x="379.10" y="309.60" width="27.40" height="28.40" fill="#bccb2e"/>
<rect x="379.10" y="276.30" width="27.40" height="33.30" fill="#fb6419"/>
<rect x="379.10" y="250.70" width="27.40" height="25.60" fill="#f2f73a"/>
<rect x="379.10" y="235.70" width="27.40" height="15.00" fill="#eebc82"/>
<rect x="379.10" y="228.00" width="27.40" height="7.70" fill="#318c1f"/>
<rect x="379.10" y="225.60" width="27.40" height="2.40" fill="#aafaaa"/>
<rect x="379.10" y="222.30" width="27.40" height="3.30" fill="#a8150b"/>
<rect x="379.10" y="220.50" width="27.40" height="1.80" fill="#f0a2f0"/>
<rect x="379.10" y="219.30" width="27.40" height="1.20" fill="#77148c"/>
<rect x="379.10" y="218.70" width="27.40" height="0.60" fill="#3a3a6a"/>
<line x1="379.1" y1="309.6" x2="406.5" y2="309.6" stroke="#5e4e30" stroke-width="0.55"/>
<line x1="379.1" y1="276.3" x2="406.5" y2="276.3" stroke="#5e4e30" stroke-width="0.55"/>
<line x1="379.1" y1="250.7" x2="406.5" y2="250.7" stroke="#5e4e30" stroke-width="0.55"/>
<line x1="379.1" y1="235.7" x2="406.5" y2="235.7" stroke="#5e4e30" stroke-width="0.55"/>
<line x1="379.1" y1="228.0" x2="406.5" y2="228.0" stroke="#5e4e30" stroke-width="0.55"/>
<line x1="379.1" y1="225.6" x2="406.5" y2="225.6" stroke="#5e4e30" stroke-width="0.55"/>
<line x1="379.1" y1="222.3" x2="406.5" y2="222.3" stroke="#5e4e30" stroke-width="0.55"/>
<line x1="379.1" y1="220.5" x2="406.5" y2="220.5" stroke="#5e4e30" stroke-width="0.55"/>
<line x1="379.1" y1="219.3" x2="406.5" y2="219.3" stroke="#5e4e30" stroke-width="0.55"/>
<rect x="379.10" y="218.70" width="27.40" height="119.30" fill="none" stroke="#8d8d8d" stroke-width="0.5"/>
<rect x="420.20" y="325.30" width="27.40" height="12.70" fill="#bccb2e"/>
<rect x="420.20" y="305.20" width="27.40" height="20.10" fill="#fb6419"/>
<rect x="420.20" y="279.40" width="27.40" height="25.80" fill="#f2f73a"/>
<rect x="420.20" y="256.40" width="27.40" height="23.00" fill="#eebc82"/>
<rect x="420.20" y="239.30" width="27.40" height="17.10" fill="#318c1f"/>
<rect x="420.20" y="228.90" width="27.40" height="10.40" fill="#aafaaa"/>
<rect x="420.20" y="223.40" width="27.40" height="5.50" fill="#a8150b"/>
<rect x="420.20" y="221.00" width="27.40" height="2.40" fill="#f0a2f0"/>
<rect x="420.20" y="219.60" width="27.40" height="1.40" fill="#77148c"/>
<rect x="420.20" y="218.70" width="27.40" height="0.90" fill="#3a3a6a"/>
<line x1="420.2" y1="325.3" x2="447.6" y2="325.3" stroke="#5e4e30" stroke-width="0.55"/>
<line x1="420.2" y1="305.2" x2="447.6" y2="305.2" stroke="#5e4e30" stroke-width="0.55"/>
<line x1="420.2" y1="279.4" x2="447.6" y2="279.4" stroke="#5e4e30" stroke-width="0.55"/>
<line x1="420.2" y1="256.4" x2="447.6" y2="256.4" stroke="#5e4e30" stroke-width="0.55"/>
<line x1="420.2" y1="239.3" x2="447.6" y2="239.3" stroke="#5e4e30" stroke-width="0.55"/>
<line x1="420.2" y1="228.9" x2="447.6" y2="228.9" stroke="#5e4e30" stroke-width="0.55"/>
<line x1="420.2" y1="223.4" x2="447.6" y2="223.4" stroke="#5e4e30" stroke-width="0.55"/>
<line x1="420.2" y1="221.0" x2="447.6" y2="221.0" stroke="#5e4e30" stroke-width="0.55"/>
<line x1="420.2" y1="219.6" x2="447.6" y2="219.6" stroke="#5e4e30" stroke-width="0.55"/>
<rect x="420.20" y="218.70" width="27.40" height="119.30" fill="none" stroke="#8d8d8d" stroke-width="0.5"/>
<line x1="433.9" y1="324.6" x2="433.9" y2="326.0" stroke="#505050" stroke-width="0.4"/>
<line x1="427.1" y1="324.6" x2="440.7" y2="324.6" stroke="#505050" stroke-width="0.4"/>
<line x1="427.1" y1="326.0" x2="440.7" y2="326.0" stroke="#505050" stroke-width="0.4"/>
<line x1="433.9" y1="304.5" x2="433.9" y2="305.9" stroke="#505050" stroke-width="0.4"/>
<line x1="427.1" y1="304.5" x2="440.7" y2="304.5" stroke="#505050" stroke-width="0.4"/>
<line x1="427.1" y1="305.9" x2="440.7" y2="305.9" stroke="#505050" stroke-width="0.4"/>
<line x1="433.9" y1="278.7" x2="433.9" y2="280.1" stroke="#505050" stroke-width="0.4"/>
<line x1="427.1" y1="278.7" x2="440.7" y2="278.7" stroke="#505050" stroke-width="0.4"/>
<line x1="427.1" y1="280.1" x2="440.7" y2="280.1" stroke="#505050" stroke-width="0.4"/>
<line x1="433.9" y1="255.7" x2="433.9" y2="257.1" stroke="#505050" stroke-width="0.4"/>
<line x1="427.1" y1="255.7" x2="440.7" y2="255.7" stroke="#505050" stroke-width="0.4"/>
<line x1="427.1" y1="257.1" x2="440.7" y2="257.1" stroke="#505050" stroke-width="0.4"/>
<line x1="433.9" y1="238.6" x2="433.9" y2="240.0" stroke="#505050" stroke-width="0.4"/>
<line x1="427.1" y1="238.6" x2="440.7" y2="238.6" stroke="#505050" stroke-width="0.4"/>
<line x1="427.1" y1="240.0" x2="440.7" y2="240.0" stroke="#505050" stroke-width="0.4"/>
<line x1="392.8" y1="308.9" x2="392.8" y2="310.3" stroke="#505050" stroke-width="0.4"/>
<line x1="386.0" y1="308.9" x2="399.6" y2="308.9" stroke="#505050" stroke-width="0.4"/>
<line x1="386.0" y1="310.3" x2="399.6" y2="310.3" stroke="#505050" stroke-width="0.4"/>
<line x1="392.8" y1="275.6" x2="392.8" y2="277.0" stroke="#505050" stroke-width="0.4"/>
<line x1="386.0" y1="275.6" x2="399.6" y2="275.6" stroke="#505050" stroke-width="0.4"/>
<line x1="386.0" y1="277.0" x2="399.6" y2="277.0" stroke="#505050" stroke-width="0.4"/>
<line x1="392.8" y1="250.0" x2="392.8" y2="251.4" stroke="#505050" stroke-width="0.4"/>
<line x1="386.0" y1="250.0" x2="399.6" y2="250.0" stroke="#505050" stroke-width="0.4"/>
<line x1="386.0" y1="251.4" x2="399.6" y2="251.4" stroke="#505050" stroke-width="0.4"/>
<line x1="392.8" y1="235.0" x2="392.8" y2="236.4" stroke="#505050" stroke-width="0.4"/>
<line x1="386.0" y1="235.0" x2="399.6" y2="235.0" stroke="#505050" stroke-width="0.4"/>
<line x1="386.0" y1="236.4" x2="399.6" y2="236.4" stroke="#505050" stroke-width="0.4"/>
<line x1="392.8" y1="227.3" x2="392.8" y2="228.7" stroke="#505050" stroke-width="0.4"/>
<line x1="386.0" y1="227.3" x2="399.6" y2="227.3" stroke="#505050" stroke-width="0.4"/>
<line x1="386.0" y1="228.7" x2="399.6" y2="228.7" stroke="#505050" stroke-width="0.4"/>
<path d="M433.00,332.30L433.00,330.20M433.00,332.30L435.00,331.65M433.00,332.30L434.23,334.00M433.00,332.30L431.77,334.00M433.00,332.30L431.00,331.65" stroke="#111" stroke-width="1.0" stroke-linecap="round" fill="none"/>
<line x1="365.4" y1="194.2" x2="365.4" y2="338.5" stroke="#222" stroke-width="1.0"/>
<line x1="364.9" y1="338.0" x2="460.6" y2="338.0" stroke="#1a1a1a" stroke-width="1.1"/>
<line x1="363.4" y1="338.0" x2="365.4" y2="338.0" stroke="#222" stroke-width="0.8"/>
<text x="362.7" y="341.1" font-size="8.8" text-anchor="end" textLength="4.6" lengthAdjust="spacingAndGlyphs" fill="#2a2a2a" stroke="#2a2a2a" stroke-width="0.17">0</text>
<line x1="363.4" y1="290.1" x2="365.4" y2="290.1" stroke="#222" stroke-width="0.8"/>
<text x="362.7" y="293.2" font-size="8.8" text-anchor="end" textLength="9.1" lengthAdjust="spacingAndGlyphs" fill="#2a2a2a" stroke="#2a2a2a" stroke-width="0.17">40</text>
<line x1="363.4" y1="242.1" x2="365.4" y2="242.1" stroke="#222" stroke-width="0.8"/>
<text x="362.7" y="245.2" font-size="8.8" text-anchor="end" textLength="9.1" lengthAdjust="spacingAndGlyphs" fill="#2a2a2a" stroke="#2a2a2a" stroke-width="0.17">80</text>
<line x1="363.4" y1="194.2" x2="365.4" y2="194.2" stroke="#222" stroke-width="0.8"/>
<text x="362.7" y="197.3" font-size="8.8" text-anchor="end" textLength="13.7" lengthAdjust="spacingAndGlyphs" fill="#2a2a2a" stroke="#2a2a2a" stroke-width="0.17">120</text>
<line x1="392.8" y1="338.0" x2="392.8" y2="340.0" stroke="#222" stroke-width="0.8"/>
<line x1="433.9" y1="338.0" x2="433.9" y2="340.0" stroke="#222" stroke-width="0.8"/>
<text x="399.6" y="195.1" font-size="8.6" textLength="35.6" lengthAdjust="spacingAndGlyphs" fill="#111" stroke="#111" stroke-width="0.17">PG (34:1)</text>
<text x="325.0" y="194.6" font-size="10" textLength="9.4" lengthAdjust="spacingAndGlyphs" fill="#111" stroke="#111" stroke-width="0.22">(f)</text>
<text transform="translate(336.7,314.8) rotate(-90)" font-size="11.6" fill="#111" stroke="#111" stroke-width="0.2" textLength="71" lengthAdjust="spacingAndGlyphs">% Distribution</text>
<text transform="translate(349.6,315.8) rotate(-90)" font-size="11.6" fill="#111" stroke="#111" stroke-width="0.2" textLength="85.5" lengthAdjust="spacingAndGlyphs">of isotopologues</text>
<text transform="translate(365.1,373.2) rotate(-42)" font-size="9.4" fill="#111" stroke="#111" stroke-width="0.15" textLength="34.8" lengthAdjust="spacingAndGlyphs">ES-8 WT</text>
<g transform="translate(390.4,387.2) rotate(-42)" fill="#111" stroke="#111" stroke-width="0.15"><text font-size="9.5" textLength="19.96" lengthAdjust="spacingAndGlyphs">ES-8</text><text transform="translate(22.45,0) skewX(-12)" font-size="9.5" textLength="32.95" lengthAdjust="spacingAndGlyphs">SLFN11</text><text x="55.8" y="-3.7" font-size="6.3" stroke-width="0.1">-/-</text></g>
<rect x="542.90" y="306.50" width="27.20" height="31.20" fill="#bccb2e"/>
<rect x="542.90" y="271.50" width="27.20" height="35.00" fill="#fb6419"/>
<rect x="542.90" y="243.50" width="27.20" height="28.00" fill="#f2f73a"/>
<rect x="542.90" y="228.60" width="27.20" height="14.90" fill="#eebc82"/>
<rect x="542.90" y="221.00" width="27.20" height="7.60" fill="#318c1f"/>
<rect x="542.90" y="219.00" width="27.20" height="2.00" fill="#aafaaa"/>
<rect x="542.90" y="218.10" width="27.20" height="0.90" fill="#a8150b"/>
<line x1="542.9" y1="306.5" x2="570.1" y2="306.5" stroke="#5e4e30" stroke-width="0.55"/>
<line x1="542.9" y1="271.5" x2="570.1" y2="271.5" stroke="#5e4e30" stroke-width="0.55"/>
<line x1="542.9" y1="243.5" x2="570.1" y2="243.5" stroke="#5e4e30" stroke-width="0.55"/>
<line x1="542.9" y1="228.6" x2="570.1" y2="228.6" stroke="#5e4e30" stroke-width="0.55"/>
<line x1="542.9" y1="221.0" x2="570.1" y2="221.0" stroke="#5e4e30" stroke-width="0.55"/>
<line x1="542.9" y1="219.0" x2="570.1" y2="219.0" stroke="#5e4e30" stroke-width="0.55"/>
<rect x="542.90" y="218.10" width="27.20" height="119.60" fill="none" stroke="#8d8d8d" stroke-width="0.5"/>
<rect x="584.00" y="320.60" width="27.20" height="17.10" fill="#bccb2e"/>
<rect x="584.00" y="298.70" width="27.20" height="21.90" fill="#fb6419"/>
<rect x="584.00" y="274.40" width="27.20" height="24.30" fill="#f2f73a"/>
<rect x="584.00" y="252.50" width="27.20" height="21.90" fill="#eebc82"/>
<rect x="584.00" y="235.50" width="27.20" height="17.00" fill="#318c1f"/>
<rect x="584.00" y="225.90" width="27.20" height="9.60" fill="#aafaaa"/>
<rect x="584.00" y="221.10" width="27.20" height="4.80" fill="#a8150b"/>
<rect x="584.00" y="219.30" width="27.20" height="1.80" fill="#f0a2f0"/>
<rect x="584.00" y="218.10" width="27.20" height="1.20" fill="#77148c"/>
<line x1="584.0" y1="320.6" x2="611.2" y2="320.6" stroke="#5e4e30" stroke-width="0.55"/>
<line x1="584.0" y1="298.7" x2="611.2" y2="298.7" stroke="#5e4e30" stroke-width="0.55"/>
<line x1="584.0" y1="274.4" x2="611.2" y2="274.4" stroke="#5e4e30" stroke-width="0.55"/>
<line x1="584.0" y1="252.5" x2="611.2" y2="252.5" stroke="#5e4e30" stroke-width="0.55"/>
<line x1="584.0" y1="235.5" x2="611.2" y2="235.5" stroke="#5e4e30" stroke-width="0.55"/>
<line x1="584.0" y1="225.9" x2="611.2" y2="225.9" stroke="#5e4e30" stroke-width="0.55"/>
<line x1="584.0" y1="221.1" x2="611.2" y2="221.1" stroke="#5e4e30" stroke-width="0.55"/>
<line x1="584.0" y1="219.3" x2="611.2" y2="219.3" stroke="#5e4e30" stroke-width="0.55"/>
<rect x="584.00" y="218.10" width="27.20" height="119.60" fill="none" stroke="#8d8d8d" stroke-width="0.5"/>
<line x1="597.6" y1="314.3" x2="597.6" y2="327.2" stroke="#505050" stroke-width="0.4"/>
<line x1="590.8" y1="314.3" x2="604.4" y2="314.3" stroke="#505050" stroke-width="0.4"/>
<line x1="590.8" y1="327.2" x2="604.4" y2="327.2" stroke="#505050" stroke-width="0.4"/>
<line x1="597.6" y1="294.9" x2="597.6" y2="303.7" stroke="#505050" stroke-width="0.4"/>
<line x1="590.8" y1="294.9" x2="604.4" y2="294.9" stroke="#505050" stroke-width="0.4"/>
<line x1="590.8" y1="303.7" x2="604.4" y2="303.7" stroke="#505050" stroke-width="0.4"/>
<line x1="597.6" y1="271.9" x2="597.6" y2="276.3" stroke="#505050" stroke-width="0.4"/>
<line x1="590.8" y1="271.9" x2="604.4" y2="271.9" stroke="#505050" stroke-width="0.4"/>
<line x1="590.8" y1="276.3" x2="604.4" y2="276.3" stroke="#505050" stroke-width="0.4"/>
<line x1="597.6" y1="250.0" x2="597.6" y2="255.0" stroke="#505050" stroke-width="0.4"/>
<line x1="590.8" y1="250.0" x2="604.4" y2="250.0" stroke="#505050" stroke-width="0.4"/>
<line x1="590.8" y1="255.0" x2="604.4" y2="255.0" stroke="#505050" stroke-width="0.4"/>
<line x1="597.6" y1="232.0" x2="597.6" y2="239.5" stroke="#505050" stroke-width="0.4"/>
<line x1="590.8" y1="232.0" x2="604.4" y2="232.0" stroke="#505050" stroke-width="0.4"/>
<line x1="590.8" y1="239.5" x2="604.4" y2="239.5" stroke="#505050" stroke-width="0.4"/>
<line x1="556.5" y1="305.8" x2="556.5" y2="307.2" stroke="#505050" stroke-width="0.4"/>
<line x1="549.7" y1="305.8" x2="563.3" y2="305.8" stroke="#505050" stroke-width="0.4"/>
<line x1="549.7" y1="307.2" x2="563.3" y2="307.2" stroke="#505050" stroke-width="0.4"/>
<line x1="556.5" y1="270.8" x2="556.5" y2="272.2" stroke="#505050" stroke-width="0.4"/>
<line x1="549.7" y1="270.8" x2="563.3" y2="270.8" stroke="#505050" stroke-width="0.4"/>
<line x1="549.7" y1="272.2" x2="563.3" y2="272.2" stroke="#505050" stroke-width="0.4"/>
<line x1="556.5" y1="242.8" x2="556.5" y2="244.2" stroke="#505050" stroke-width="0.4"/>
<line x1="549.7" y1="242.8" x2="563.3" y2="242.8" stroke="#505050" stroke-width="0.4"/>
<line x1="549.7" y1="244.2" x2="563.3" y2="244.2" stroke="#505050" stroke-width="0.4"/>
<line x1="556.5" y1="227.9" x2="556.5" y2="229.3" stroke="#505050" stroke-width="0.4"/>
<line x1="549.7" y1="227.9" x2="563.3" y2="227.9" stroke="#505050" stroke-width="0.4"/>
<line x1="549.7" y1="229.3" x2="563.3" y2="229.3" stroke="#505050" stroke-width="0.4"/>
<line x1="556.5" y1="220.3" x2="556.5" y2="221.7" stroke="#505050" stroke-width="0.4"/>
<line x1="549.7" y1="220.3" x2="563.3" y2="220.3" stroke="#505050" stroke-width="0.4"/>
<line x1="549.7" y1="221.7" x2="563.3" y2="221.7" stroke="#505050" stroke-width="0.4"/>
<path d="M597.00,331.40L597.00,329.30M597.00,331.40L599.00,330.75M597.00,331.40L598.23,333.10M597.00,331.40L595.77,333.10M597.00,331.40L595.00,330.75" stroke="#111" stroke-width="1.0" stroke-linecap="round" fill="none"/>
<line x1="529.2" y1="193.6" x2="529.2" y2="338.2" stroke="#222" stroke-width="1.0"/>
<line x1="528.7" y1="337.7" x2="624.4" y2="337.7" stroke="#1a1a1a" stroke-width="1.1"/>
<line x1="527.2" y1="337.7" x2="529.2" y2="337.7" stroke="#222" stroke-width="0.8"/>
<text x="526.5" y="340.8" font-size="8.8" text-anchor="end" textLength="4.6" lengthAdjust="spacingAndGlyphs" fill="#2a2a2a" stroke="#2a2a2a" stroke-width="0.17">0</text>
<line x1="527.2" y1="289.7" x2="529.2" y2="289.7" stroke="#222" stroke-width="0.8"/>
<text x="526.5" y="292.8" font-size="8.8" text-anchor="end" textLength="9.1" lengthAdjust="spacingAndGlyphs" fill="#2a2a2a" stroke="#2a2a2a" stroke-width="0.17">40</text>
<line x1="527.2" y1="241.6" x2="529.2" y2="241.6" stroke="#222" stroke-width="0.8"/>
<text x="526.5" y="244.7" font-size="8.8" text-anchor="end" textLength="9.1" lengthAdjust="spacingAndGlyphs" fill="#2a2a2a" stroke="#2a2a2a" stroke-width="0.17">80</text>
<line x1="527.2" y1="193.6" x2="529.2" y2="193.6" stroke="#222" stroke-width="0.8"/>
<text x="526.5" y="196.7" font-size="8.8" text-anchor="end" textLength="13.7" lengthAdjust="spacingAndGlyphs" fill="#2a2a2a" stroke="#2a2a2a" stroke-width="0.17">120</text>
<line x1="556.5" y1="337.7" x2="556.5" y2="339.7" stroke="#222" stroke-width="0.8"/>
<line x1="597.6" y1="337.7" x2="597.6" y2="339.7" stroke="#222" stroke-width="0.8"/>
<text x="558.6" y="194.1" font-size="8.6" textLength="33.0" lengthAdjust="spacingAndGlyphs" fill="#111" stroke="#111" stroke-width="0.17">PI (34:1)</text>
<text x="488.8" y="193.6" font-size="10" textLength="13.8" lengthAdjust="spacingAndGlyphs" fill="#111" stroke="#111" stroke-width="0.22">(g)</text>
<text transform="translate(500.4,317.0) rotate(-90)" font-size="11.6" fill="#111" stroke="#111" stroke-width="0.2" textLength="71" lengthAdjust="spacingAndGlyphs">% Distribution</text>
<text transform="translate(513.7,318.0) rotate(-90)" font-size="11.6" fill="#111" stroke="#111" stroke-width="0.2" textLength="85.5" lengthAdjust="spacingAndGlyphs">of isotopologues</text>
<text transform="translate(528.8,372.9) rotate(-42)" font-size="9.4" fill="#111" stroke="#111" stroke-width="0.15" textLength="34.8" lengthAdjust="spacingAndGlyphs">ES-8 WT</text>
<g transform="translate(554.1,386.9) rotate(-42)" fill="#111" stroke="#111" stroke-width="0.15"><text font-size="9.5" textLength="19.96" lengthAdjust="spacingAndGlyphs">ES-8</text><text transform="translate(22.45,0) skewX(-12)" font-size="9.5" textLength="32.95" lengthAdjust="spacingAndGlyphs">SLFN11</text><text x="55.8" y="-3.7" font-size="6.3" stroke-width="0.1">-/-</text></g>
<rect x="631.60" y="197.50" width="8.70" height="9.40" fill="#bccb2e" stroke="#777" stroke-width="0.5"/>
<text x="643.9" y="204.5" font-size="9.1" fill="#222" stroke="#222" stroke-width="0.1">M+0</text>
<rect x="631.60" y="208.52" width="8.70" height="9.40" fill="#fb6419" stroke="#777" stroke-width="0.5"/>
<text x="643.9" y="215.6" font-size="9.1" fill="#222" stroke="#222" stroke-width="0.1">M+2</text>
<rect x="631.60" y="219.54" width="8.70" height="9.40" fill="#f2f73a" stroke="#777" stroke-width="0.5"/>
<text x="643.9" y="226.8" font-size="9.1" fill="#222" stroke="#222" stroke-width="0.1">M+4</text>
<rect x="631.60" y="230.56" width="8.70" height="9.40" fill="#eebc82" stroke="#777" stroke-width="0.5"/>
<text x="643.9" y="237.9" font-size="9.1" fill="#222" stroke="#222" stroke-width="0.1">M+6</text>
<rect x="631.60" y="241.58" width="8.70" height="9.40" fill="#318c1f" stroke="#777" stroke-width="0.5"/>
<text x="643.9" y="249.1" font-size="9.1" fill="#222" stroke="#222" stroke-width="0.1">M+8</text>
<rect x="631.60" y="252.60" width="8.70" height="9.40" fill="#aafaaa" stroke="#777" stroke-width="0.5"/>
<text x="643.9" y="260.2" font-size="9.1" fill="#222" stroke="#222" stroke-width="0.1">M+10</text>
<rect x="631.60" y="263.62" width="8.70" height="9.40" fill="#a8150b" stroke="#777" stroke-width="0.5"/>
<text x="643.9" y="271.3" font-size="9.1" fill="#222" stroke="#222" stroke-width="0.1">M+12</text>
<rect x="631.60" y="274.64" width="8.70" height="9.40" fill="#f0a2f0" stroke="#777" stroke-width="0.5"/>
<text x="643.9" y="282.5" font-size="9.1" fill="#222" stroke="#222" stroke-width="0.1">M+14</text>
<rect x="631.60" y="285.66" width="8.70" height="9.40" fill="#77148c" stroke="#777" stroke-width="0.5"/>
<text x="643.9" y="293.6" font-size="9.1" fill="#222" stroke="#222" stroke-width="0.1">M+16</text>
<rect x="631.60" y="296.68" width="8.70" height="9.40" fill="#88aad3" stroke="#777" stroke-width="0.5"/>
<text x="643.9" y="304.7" font-size="9.1" fill="#222" stroke="#222" stroke-width="0.1">M+18</text>
<rect x="631.60" y="307.70" width="8.70" height="9.40" fill="#e8e8e8" stroke="#777" stroke-width="0.5"/>
<text x="643.9" y="315.9" font-size="9.1" fill="#222" stroke="#222" stroke-width="0.1">M+20</text>
<rect x="631.60" y="318.72" width="8.70" height="9.40" fill="#5b5b5b" stroke="#777" stroke-width="0.5"/>
<text x="643.9" y="327.0" font-size="9.1" fill="#222" stroke="#222" stroke-width="0.1">M+22</text>
<text x="0.6" y="394.3" font-size="10" textLength="13.4" lengthAdjust="spacingAndGlyphs" fill="#141414" stroke="#111" stroke-width="0.22">(h)</text>
<circle cx="40.9" cy="402.5" r="7.25" fill="#74dbe2" stroke="#47b3c2" stroke-width="0.8"/>
<circle cx="56.2" cy="402.5" r="7.25" fill="#74dbe2" stroke="#47b3c2" stroke-width="0.8"/>
<circle cx="116.7" cy="402.5" r="7.25" fill="#74dbe2" stroke="#47b3c2" stroke-width="0.8"/>
<circle cx="132.1" cy="402.5" r="7.25" fill="#74dbe2" stroke="#47b3c2" stroke-width="0.8"/>
<circle cx="191.3" cy="401.2" r="7.25" fill="#74dbe2" stroke="#47b3c2" stroke-width="0.8"/>
<circle cx="191.3" cy="447.9" r="7.25" fill="#74dbe2" stroke="#47b3c2" stroke-width="0.8"/>
<circle cx="206.6" cy="401.2" r="7.25" fill="#74dbe2" stroke="#47b3c2" stroke-width="0.8"/>
<circle cx="206.6" cy="447.9" r="7.25" fill="#74dbe2" stroke="#47b3c2" stroke-width="0.8"/>
<circle cx="221.5" cy="401.2" r="7.25" fill="#74dbe2" stroke="#47b3c2" stroke-width="0.8"/>
<circle cx="221.5" cy="447.9" r="7.25" fill="#74dbe2" stroke="#47b3c2" stroke-width="0.8"/>
<line x1="66.6" y1="401.0" x2="99.9" y2="401.0" stroke="#222" stroke-width="0.75"/>
<polygon points="103.0,401.0 99.4,402.6 100.4,401.0 99.4,399.4" fill="#222"/>
<line x1="144.5" y1="401.0" x2="177.5" y2="401.0" stroke="#222" stroke-width="0.75"/>
<polygon points="180.6,401.0 177.0,402.6 178.0,401.0 177.0,399.4" fill="#222"/>
<line x1="206.6" y1="423.0" x2="206.6" y2="435.9" stroke="#222" stroke-width="0.75"/>
<polygon points="206.6,439.0 205.0,435.4 206.6,436.4 208.2,435.4" fill="#222"/>
<line x1="177.6" y1="448.0" x2="144.5" y2="448.0" stroke="#222" stroke-width="0.75"/>
<polygon points="141.4,448.0 145.0,446.4 144.0,448.0 145.0,449.6" fill="#222"/>
<line x1="88.5" y1="461.8" x2="54.7" y2="479.8" stroke="#222" stroke-width="0.75"/>
<polygon points="52.0,481.3 54.4,478.2 54.3,480.1 55.9,481.0" fill="#222"/>
<line x1="118.2" y1="461.8" x2="152.0" y2="479.8" stroke="#222" stroke-width="0.75"/>
<polygon points="154.7,481.3 150.8,481.0 152.4,480.1 152.3,478.2" fill="#222"/>
<line x1="50.5" y1="505.0" x2="50.5" y2="523.1" stroke="#222" stroke-width="0.75"/>
<polygon points="50.5,526.2 48.9,522.6 50.5,523.6 52.1,522.6" fill="#222"/>
<line x1="156.2" y1="505.0" x2="156.2" y2="523.1" stroke="#222" stroke-width="0.75"/>
<polygon points="156.2,526.2 154.6,522.6 156.2,523.6 157.8,522.6" fill="#222"/>
<text x="18.1" y="420.4" font-size="9.2" textLength="54.3" lengthAdjust="spacingAndGlyphs" fill="#141414" stroke="#141414" stroke-width="0.17">U-<tspan font-size="5.7" dy="-3.2">13</tspan><tspan dy="3.2">C acetate</tspan></text>
<text x="102.8" y="420.4" font-size="9.75" textLength="44.1" lengthAdjust="spacingAndGlyphs" fill="#141414" stroke="#141414" stroke-width="0.17">Acetyl-CoA</text>
<text x="183.7" y="420.1" font-size="9.75" textLength="52.1" lengthAdjust="spacingAndGlyphs" fill="#141414" stroke="#141414" stroke-width="0.17">Malonyl-CoA</text>
<text x="182.7" y="468.1" font-size="9.75" textLength="51.1" lengthAdjust="spacingAndGlyphs" fill="#141414" stroke="#141414" stroke-width="0.17">Malonyl ACP</text>
<text x="83.8" y="446.7" font-size="9.75" textLength="38.8" lengthAdjust="spacingAndGlyphs" fill="#141414" stroke="#141414" stroke-width="0.17">Palmitate</text>
<text x="91.4" y="457.2" font-size="9.75" textLength="23.3" lengthAdjust="spacingAndGlyphs" fill="#141414" stroke="#141414" stroke-width="0.17">(16:0)</text>
<text x="21.9" y="491.4" font-size="9.75" textLength="51.7" lengthAdjust="spacingAndGlyphs" fill="#141414" stroke="#141414" stroke-width="0.17">Palmitoleate</text>
<text x="36.5" y="502.5" font-size="9.75" textLength="23.4" lengthAdjust="spacingAndGlyphs" fill="#141414" stroke="#141414" stroke-width="0.17">(16:1)</text>
<text x="137.8" y="491.4" font-size="9.75" textLength="34.5" lengthAdjust="spacingAndGlyphs" fill="#141414" stroke="#141414" stroke-width="0.17">Stearate</text>
<text x="143.6" y="502.5" font-size="9.75" textLength="23.4" lengthAdjust="spacingAndGlyphs" fill="#141414" stroke="#141414" stroke-width="0.17">(18:0)</text>
<text x="28.3" y="536.9" font-size="9.75" textLength="42.4" lengthAdjust="spacingAndGlyphs" fill="#141414" stroke="#141414" stroke-width="0.17">Vaccenate</text>
<text x="38.0" y="547.8" font-size="9.75" textLength="23.3" lengthAdjust="spacingAndGlyphs" fill="#141414" stroke="#141414" stroke-width="0.17">(18:1)</text>
<text x="143.6" y="536.9" font-size="9.75" textLength="27.2" lengthAdjust="spacingAndGlyphs" fill="#141414" stroke="#141414" stroke-width="0.17">Oleate</text>
<text x="145.1" y="547.8" font-size="9.75" textLength="23.7" lengthAdjust="spacingAndGlyphs" fill="#141414" stroke="#141414" stroke-width="0.17">(18:1)</text>
<rect x="348.10" y="428.60" width="27.70" height="117.60" fill="#bccb2e"/>
<rect x="348.10" y="426.90" width="27.70" height="1.70" fill="#b4503c"/>
<line x1="348.1" y1="428.6" x2="375.8" y2="428.6" stroke="#5e4e30" stroke-width="0.55"/>
<rect x="348.10" y="426.90" width="27.70" height="119.30" fill="none" stroke="#8d8d8d" stroke-width="0.5"/>
<rect x="389.30" y="428.60" width="27.70" height="117.60" fill="#bccb2e"/>
<rect x="389.30" y="426.90" width="27.70" height="1.70" fill="#c08a4a"/>
<line x1="389.3" y1="428.6" x2="417.0" y2="428.6" stroke="#5e4e30" stroke-width="0.55"/>
<rect x="389.30" y="426.90" width="27.70" height="119.30" fill="none" stroke="#8d8d8d" stroke-width="0.5"/>
<line x1="334.4" y1="402.4" x2="334.4" y2="546.7" stroke="#222" stroke-width="1.0"/>
<line x1="333.9" y1="546.2" x2="430.9" y2="546.2" stroke="#1a1a1a" stroke-width="1.1"/>
<line x1="332.4" y1="546.2" x2="334.4" y2="546.2" stroke="#222" stroke-width="0.8"/>
<text x="331.7" y="549.3" font-size="8.8" text-anchor="end" textLength="4.6" lengthAdjust="spacingAndGlyphs" fill="#2a2a2a" stroke="#2a2a2a" stroke-width="0.17">0</text>
<line x1="332.4" y1="498.3" x2="334.4" y2="498.3" stroke="#222" stroke-width="0.8"/>
<text x="331.7" y="501.4" font-size="8.8" text-anchor="end" textLength="9.1" lengthAdjust="spacingAndGlyphs" fill="#2a2a2a" stroke="#2a2a2a" stroke-width="0.17">40</text>
<line x1="332.4" y1="450.3" x2="334.4" y2="450.3" stroke="#222" stroke-width="0.8"/>
<text x="331.7" y="453.4" font-size="8.8" text-anchor="end" textLength="9.1" lengthAdjust="spacingAndGlyphs" fill="#2a2a2a" stroke="#2a2a2a" stroke-width="0.17">80</text>
<line x1="332.4" y1="402.4" x2="334.4" y2="402.4" stroke="#222" stroke-width="0.8"/>
<text x="331.7" y="405.5" font-size="8.8" text-anchor="end" textLength="13.7" lengthAdjust="spacingAndGlyphs" fill="#2a2a2a" stroke="#2a2a2a" stroke-width="0.17">120</text>
<line x1="362.0" y1="546.2" x2="362.0" y2="548.2" stroke="#222" stroke-width="0.8"/>
<line x1="403.1" y1="546.2" x2="403.1" y2="548.2" stroke="#222" stroke-width="0.8"/>
<text x="362.6" y="407.0" font-size="8.6" textLength="39.4" lengthAdjust="spacingAndGlyphs" fill="#111" stroke="#111" stroke-width="0.17">Palmitate</text>
<text x="294.3" y="396.6" font-size="10" textLength="9.0" lengthAdjust="spacingAndGlyphs" fill="#111" stroke="#111" stroke-width="0.22">(i)</text>
<text transform="translate(303.2,527.8) rotate(-90)" font-size="11.6" fill="#111" stroke="#111" stroke-width="0.2" textLength="71" lengthAdjust="spacingAndGlyphs">% Distribution</text>
<text transform="translate(316.8,528.8) rotate(-90)" font-size="11.6" fill="#111" stroke="#111" stroke-width="0.2" textLength="85.5" lengthAdjust="spacingAndGlyphs">of isotopologues</text>
<text transform="translate(334.3,581.4) rotate(-42)" font-size="9.4" fill="#111" stroke="#111" stroke-width="0.15" textLength="34.8" lengthAdjust="spacingAndGlyphs">ES-8 WT</text>
<g transform="translate(359.6,595.4) rotate(-42)" fill="#111" stroke="#111" stroke-width="0.15"><text font-size="9.5" textLength="19.96" lengthAdjust="spacingAndGlyphs">ES-8</text><text transform="translate(22.45,0) skewX(-12)" font-size="9.5" textLength="32.95" lengthAdjust="spacingAndGlyphs">SLFN11</text><text x="55.8" y="-3.7" font-size="6.3" stroke-width="0.1">-/-</text></g>
<line x1="355.5" y1="427.7" x2="368.5" y2="427.7" stroke="#1a0a10" stroke-width="1.1"/>
<line x1="396.5" y1="427.7" x2="409.5" y2="427.7" stroke="#5a3a1a" stroke-width="1.0"/>
<rect x="518.00" y="445.80" width="27.30" height="100.40" fill="#bccb2e"/>
<rect x="518.00" y="434.40" width="27.30" height="11.40" fill="#fb6419"/>
<rect x="518.00" y="429.40" width="27.30" height="5.00" fill="#f2f73a"/>
<rect x="518.00" y="427.80" width="27.30" height="1.60" fill="#eebc82"/>
<rect x="518.00" y="427.20" width="27.30" height="0.60" fill="#318c1f"/>
<line x1="518.0" y1="445.8" x2="545.3" y2="445.8" stroke="#5e4e30" stroke-width="0.55"/>
<line x1="518.0" y1="434.4" x2="545.3" y2="434.4" stroke="#5e4e30" stroke-width="0.55"/>
<line x1="518.0" y1="429.4" x2="545.3" y2="429.4" stroke="#5e4e30" stroke-width="0.55"/>
<line x1="518.0" y1="427.8" x2="545.3" y2="427.8" stroke="#5e4e30" stroke-width="0.55"/>
<rect x="518.00" y="427.20" width="27.30" height="119.00" fill="none" stroke="#8d8d8d" stroke-width="0.5"/>
<rect x="559.10" y="456.60" width="27.50" height="89.60" fill="#bccb2e"/>
<rect x="559.10" y="445.80" width="27.50" height="10.80" fill="#fb6419"/>
<rect x="559.10" y="435.90" width="27.50" height="9.90" fill="#f2f73a"/>
<rect x="559.10" y="430.00" width="27.50" height="5.90" fill="#eebc82"/>
<rect x="559.10" y="427.10" width="27.50" height="2.90" fill="#318c1f"/>
<line x1="559.1" y1="456.6" x2="586.6" y2="456.6" stroke="#5e4e30" stroke-width="0.55"/>
<line x1="559.1" y1="445.8" x2="586.6" y2="445.8" stroke="#5e4e30" stroke-width="0.55"/>
<line x1="559.1" y1="435.9" x2="586.6" y2="435.9" stroke="#5e4e30" stroke-width="0.55"/>
<line x1="559.1" y1="430.0" x2="586.6" y2="430.0" stroke="#5e4e30" stroke-width="0.55"/>
<rect x="559.10" y="427.10" width="27.50" height="119.10" fill="none" stroke="#8d8d8d" stroke-width="0.5"/>
<line x1="531.7" y1="442.4" x2="531.7" y2="449.3" stroke="#505050" stroke-width="0.4"/>
<line x1="524.9" y1="442.4" x2="538.5" y2="442.4" stroke="#505050" stroke-width="0.4"/>
<line x1="524.9" y1="449.3" x2="538.5" y2="449.3" stroke="#505050" stroke-width="0.4"/>
<line x1="531.7" y1="432.3" x2="531.7" y2="436.3" stroke="#505050" stroke-width="0.4"/>
<line x1="524.9" y1="432.3" x2="538.5" y2="432.3" stroke="#505050" stroke-width="0.4"/>
<line x1="524.9" y1="436.3" x2="538.5" y2="436.3" stroke="#505050" stroke-width="0.4"/>
<line x1="531.7" y1="428.5" x2="531.7" y2="431.5" stroke="#505050" stroke-width="0.4"/>
<line x1="524.9" y1="428.5" x2="538.5" y2="428.5" stroke="#505050" stroke-width="0.4"/>
<line x1="524.9" y1="431.5" x2="538.5" y2="431.5" stroke="#505050" stroke-width="0.4"/>
<line x1="572.9" y1="450.5" x2="572.9" y2="461.9" stroke="#505050" stroke-width="0.4"/>
<line x1="566.1" y1="450.5" x2="579.7" y2="450.5" stroke="#505050" stroke-width="0.4"/>
<line x1="566.1" y1="461.9" x2="579.7" y2="461.9" stroke="#505050" stroke-width="0.4"/>
<line x1="572.9" y1="443.2" x2="572.9" y2="447.3" stroke="#505050" stroke-width="0.4"/>
<line x1="566.1" y1="443.2" x2="579.7" y2="443.2" stroke="#505050" stroke-width="0.4"/>
<line x1="566.1" y1="447.3" x2="579.7" y2="447.3" stroke="#505050" stroke-width="0.4"/>
<line x1="572.9" y1="432.5" x2="572.9" y2="437.3" stroke="#505050" stroke-width="0.4"/>
<line x1="566.1" y1="432.5" x2="579.7" y2="432.5" stroke="#505050" stroke-width="0.4"/>
<line x1="566.1" y1="437.3" x2="579.7" y2="437.3" stroke="#505050" stroke-width="0.4"/>
<line x1="572.9" y1="428.8" x2="572.9" y2="431.5" stroke="#505050" stroke-width="0.4"/>
<line x1="566.1" y1="428.8" x2="579.7" y2="428.8" stroke="#505050" stroke-width="0.4"/>
<line x1="566.1" y1="431.5" x2="579.7" y2="431.5" stroke="#505050" stroke-width="0.4"/>
<path d="M572.80,496.30L572.80,494.20M572.80,496.30L574.80,495.65M572.80,496.30L574.03,498.00M572.80,496.30L571.57,498.00M572.80,496.30L570.80,495.65" stroke="#111" stroke-width="1.0" stroke-linecap="round" fill="none"/>
<line x1="504.1" y1="402.4" x2="504.1" y2="546.7" stroke="#222" stroke-width="1.0"/>
<line x1="503.6" y1="546.2" x2="600.0" y2="546.2" stroke="#1a1a1a" stroke-width="1.1"/>
<line x1="502.1" y1="546.2" x2="504.1" y2="546.2" stroke="#222" stroke-width="0.8"/>
<text x="501.4" y="549.3" font-size="8.8" text-anchor="end" textLength="4.6" lengthAdjust="spacingAndGlyphs" fill="#2a2a2a" stroke="#2a2a2a" stroke-width="0.17">0</text>
<line x1="502.1" y1="498.3" x2="504.1" y2="498.3" stroke="#222" stroke-width="0.8"/>
<text x="501.4" y="501.4" font-size="8.8" text-anchor="end" textLength="9.1" lengthAdjust="spacingAndGlyphs" fill="#2a2a2a" stroke="#2a2a2a" stroke-width="0.17">40</text>
<line x1="502.1" y1="450.3" x2="504.1" y2="450.3" stroke="#222" stroke-width="0.8"/>
<text x="501.4" y="453.4" font-size="8.8" text-anchor="end" textLength="9.1" lengthAdjust="spacingAndGlyphs" fill="#2a2a2a" stroke="#2a2a2a" stroke-width="0.17">80</text>
<line x1="502.1" y1="402.4" x2="504.1" y2="402.4" stroke="#222" stroke-width="0.8"/>
<text x="501.4" y="405.5" font-size="8.8" text-anchor="end" textLength="13.7" lengthAdjust="spacingAndGlyphs" fill="#2a2a2a" stroke="#2a2a2a" stroke-width="0.17">120</text>
<line x1="531.6" y1="546.2" x2="531.6" y2="548.2" stroke="#222" stroke-width="0.8"/>
<line x1="572.9" y1="546.2" x2="572.9" y2="548.2" stroke="#222" stroke-width="0.8"/>
<text x="537.7" y="407.1" font-size="8.6" textLength="26.8" lengthAdjust="spacingAndGlyphs" fill="#111" stroke="#111" stroke-width="0.17">Oleate</text>
<text x="458.7" y="396.6" font-size="10" textLength="9.7" lengthAdjust="spacingAndGlyphs" fill="#111" stroke="#111" stroke-width="0.22">(j)</text>
<text transform="translate(467.6,526.9) rotate(-90)" font-size="11.6" fill="#111" stroke="#111" stroke-width="0.2" textLength="71" lengthAdjust="spacingAndGlyphs">% Distribution</text>
<text transform="translate(480.9,527.9) rotate(-90)" font-size="11.6" fill="#111" stroke="#111" stroke-width="0.2" textLength="85.5" lengthAdjust="spacingAndGlyphs">of isotopologues</text>
<text transform="translate(503.9,581.4) rotate(-42)" font-size="9.4" fill="#111" stroke="#111" stroke-width="0.15" textLength="34.8" lengthAdjust="spacingAndGlyphs">ES-8 WT</text>
<g transform="translate(529.4,595.4) rotate(-42)" fill="#111" stroke="#111" stroke-width="0.15"><text font-size="9.5" textLength="19.96" lengthAdjust="spacingAndGlyphs">ES-8</text><text transform="translate(22.45,0) skewX(-12)" font-size="9.5" textLength="32.95" lengthAdjust="spacingAndGlyphs">SLFN11</text><text x="55.8" y="-3.7" font-size="6.3" stroke-width="0.1">-/-</text></g>
<rect x="608.00" y="408.20" width="8.60" height="9.50" fill="#bccb2e" stroke="#777" stroke-width="0.5"/>
<text x="619.9" y="415.2" font-size="9.1" fill="#222" stroke="#222" stroke-width="0.1">M+0</text>
<rect x="608.00" y="419.30" width="8.60" height="9.50" fill="#fb6419" stroke="#777" stroke-width="0.5"/>
<text x="619.9" y="426.5" font-size="9.1" fill="#222" stroke="#222" stroke-width="0.1">M+2</text>
<rect x="608.00" y="430.40" width="8.60" height="9.50" fill="#f2f73a" stroke="#777" stroke-width="0.5"/>
<text x="619.9" y="437.7" font-size="9.1" fill="#222" stroke="#222" stroke-width="0.1">M+4</text>
<rect x="608.00" y="441.50" width="8.60" height="9.50" fill="#eebc82" stroke="#777" stroke-width="0.5"/>
<text x="619.9" y="448.9" font-size="9.1" fill="#222" stroke="#222" stroke-width="0.1">M+6</text>
<rect x="608.00" y="452.60" width="8.60" height="9.50" fill="#318c1f" stroke="#777" stroke-width="0.5"/>
<text x="619.9" y="460.1" font-size="9.1" fill="#222" stroke="#222" stroke-width="0.1">M+8</text>
<rect x="608.00" y="463.70" width="8.60" height="9.50" fill="#aafaaa" stroke="#777" stroke-width="0.5"/>
<text x="619.9" y="471.3" font-size="9.1" fill="#222" stroke="#222" stroke-width="0.1">M+10</text>
<rect x="608.00" y="474.80" width="8.60" height="9.50" fill="#a8150b" stroke="#777" stroke-width="0.5"/>
<text x="619.9" y="482.6" font-size="9.1" fill="#222" stroke="#222" stroke-width="0.1">M+12</text>
<rect x="608.00" y="485.90" width="8.60" height="9.50" fill="#f0a2f0" stroke="#777" stroke-width="0.5"/>
<text x="619.9" y="493.8" font-size="9.1" fill="#222" stroke="#222" stroke-width="0.1">M+14</text>
<rect x="608.00" y="497.00" width="8.60" height="9.50" fill="#77148c" stroke="#777" stroke-width="0.5"/>
<text x="619.9" y="505.0" font-size="9.1" fill="#222" stroke="#222" stroke-width="0.1">M+16</text>
<rect x="608.00" y="508.10" width="8.60" height="9.50" fill="#88aad3" stroke="#777" stroke-width="0.5"/>
<text x="619.9" y="516.2" font-size="9.1" fill="#222" stroke="#222" stroke-width="0.1">M+18</text>
<rect x="608.00" y="519.20" width="8.60" height="9.50" fill="#e8e8e8" stroke="#777" stroke-width="0.5"/>
<text x="619.9" y="527.4" font-size="9.1" fill="#222" stroke="#222" stroke-width="0.1">M+20</text>
<rect x="608.00" y="530.30" width="8.60" height="9.50" fill="#5b5b5b" stroke="#777" stroke-width="0.5"/>
<text x="619.9" y="538.6" font-size="9.1" fill="#222" stroke="#222" stroke-width="0.1">M+22</text>
</svg>
</body></html>
